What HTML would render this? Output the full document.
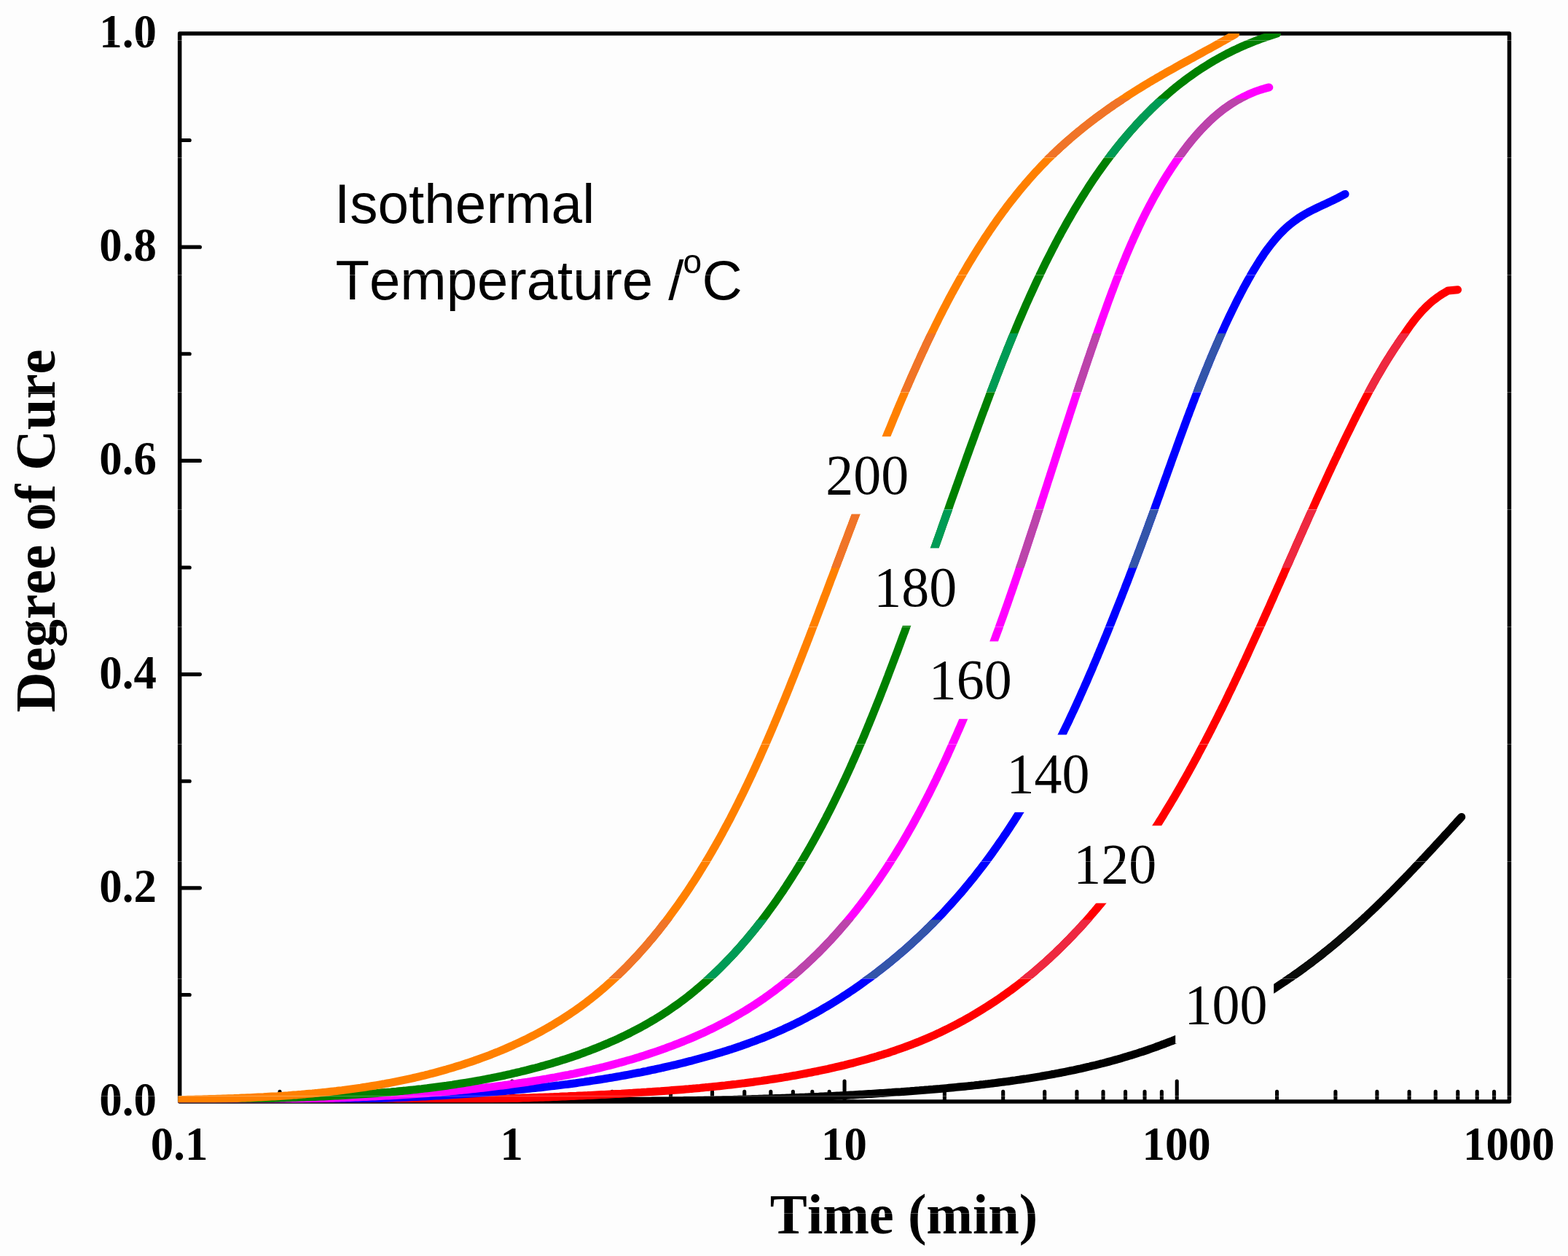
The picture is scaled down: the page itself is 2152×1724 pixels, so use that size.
<!DOCTYPE html>
<html lang="en"><head><meta charset="utf-8"><title>Degree of Cure vs Time</title>
<style>html,body{margin:0;padding:0;background:#fdfdfd}body{width:2152px;height:1724px;overflow:hidden}svg{display:block}text{fill:#000;font-kerning:none;font-variant-ligatures:none}.tk{font-family:"Liberation Serif","Times New Roman",serif;font-weight:bold}.ti{font-family:"Liberation Serif","Times New Roman",serif;font-weight:bold}.lb{font-family:"Liberation Serif","Times New Roman",serif}.lg{font-family:"Liberation Sans",Arial,sans-serif}.cv{fill:none;stroke-width:11;stroke-linecap:round;stroke-linejoin:round}.ax{fill:none;stroke:#000;stroke-width:5.5;stroke-linecap:round;stroke-linejoin:round}</style></head><body>
<svg width="2152" height="1724" viewBox="0 0 2152 1724" role="img" aria-label="Degree of cure versus time for isothermal temperatures">
<rect width="2152" height="1724" fill="#fdfdfd"/>
<defs><clipPath id="plot"><rect x="244.3" y="45.9" width="1830" height="1467.3"/></clipPath>
<clipPath id="bands"><rect x="0" y="135.5" width="2152" height="80.5"/><rect x="0" y="457.5" width="2152" height="80.5"/><rect x="0" y="699.0" width="2152" height="80.5"/><rect x="0" y="1262.5" width="2152" height="80.5"/></clipPath></defs>
<rect class="ax" x="246.65" y="45.90" width="1824.80" height="1466.20"/>
<path class="ax" style="stroke-width:5.1" d="M247.65,1365.48 h12.60 M247.65,1218.86 h26.80 M247.65,1072.24 h12.60 M247.65,925.62 h26.80 M247.65,779.00 h12.60 M247.65,632.38 h26.80 M247.65,485.76 h12.60 M247.65,339.14 h26.80 M247.65,192.52 h12.60 M383.98,1511.10 v-12.70 M464.31,1511.10 v-12.70 M521.31,1511.10 v-12.70 M565.52,1511.10 v-12.70 M601.64,1511.10 v-12.70 M632.18,1511.10 v-12.70 M658.64,1511.10 v-12.70 M681.98,1511.10 v-12.70 M702.85,1511.10 v-27.00 M840.18,1511.10 v-12.70 M920.51,1511.10 v-12.70 M977.51,1511.10 v-12.70 M1021.72,1511.10 v-12.70 M1057.84,1511.10 v-12.70 M1088.38,1511.10 v-12.70 M1114.84,1511.10 v-12.70 M1138.18,1511.10 v-12.70 M1159.05,1511.10 v-27.00 M1296.38,1511.10 v-12.70 M1376.71,1511.10 v-12.70 M1433.71,1511.10 v-12.70 M1477.92,1511.10 v-12.70 M1514.04,1511.10 v-12.70 M1544.58,1511.10 v-12.70 M1571.04,1511.10 v-12.70 M1594.38,1511.10 v-12.70 M1615.25,1511.10 v-27.00 M1752.58,1511.10 v-12.70 M1832.91,1511.10 v-12.70 M1889.91,1511.10 v-12.70 M1934.12,1511.10 v-12.70 M1970.24,1511.10 v-12.70 M2000.78,1511.10 v-12.70 M2027.24,1511.10 v-12.70 M2050.58,1511.10 v-12.70"/>
<g clip-path="url(#plot)">
<path class="cv" stroke="#000000" d="M246.6,1512.5 L249.8,1512.4 L253.0,1512.4 L256.2,1512.3 L259.4,1512.2 L262.5,1512.1 L265.7,1512.1 L268.9,1512.0 L272.1,1511.9 L275.2,1511.9 L278.4,1511.8 L281.6,1511.8 L284.7,1511.7 L287.9,1511.6 L291.1,1511.6 L294.3,1511.5 L297.4,1511.5 L300.6,1511.4 L303.8,1511.4 L306.9,1511.3 L310.1,1511.3 L313.3,1511.2 L316.4,1511.2 L319.6,1511.1 L322.8,1511.1 L325.9,1511.1 L329.1,1511.0 L332.3,1511.0 L335.4,1510.9 L338.6,1510.9 L341.7,1510.9 L344.9,1510.8 L348.1,1510.8 L351.2,1510.8 L354.4,1510.7 L357.5,1510.7 L360.7,1510.7 L363.9,1510.6 L367.0,1510.6 L370.2,1510.6 L373.3,1510.6 L376.5,1510.5 L379.6,1510.5 L382.8,1510.5 L385.9,1510.5 L389.1,1510.5 L392.3,1510.4 L395.4,1510.4 L398.6,1510.4 L401.7,1510.4 L404.9,1510.4 L408.0,1510.4 L411.2,1510.3 L414.3,1510.3 L417.5,1510.3 L420.6,1510.3 L423.8,1510.3 L426.9,1510.3 L430.1,1510.3 L433.2,1510.3 L436.3,1510.3 L439.5,1510.3 L442.6,1510.3 L445.8,1510.3 L448.9,1510.3 L452.1,1510.3 L455.2,1510.2 L458.4,1510.2 L461.5,1510.2 L464.6,1510.2 L467.8,1510.2 L470.9,1510.3 L474.1,1510.3 L477.2,1510.3 L480.4,1510.3 L483.5,1510.3 L486.6,1510.3 L489.8,1510.3 L492.9,1510.3 L496.1,1510.3 L499.2,1510.3 L502.3,1510.3 L505.5,1510.3 L508.6,1510.3 L511.7,1510.3 L514.9,1510.3 L518.0,1510.3 L521.1,1510.4 L524.3,1510.4 L527.4,1510.4 L530.6,1510.4 L533.7,1510.4 L536.8,1510.4 L540.0,1510.4 L543.1,1510.4 L546.2,1510.5 L549.4,1510.5 L552.5,1510.5 L555.6,1510.5 L558.8,1510.5 L561.9,1510.5 L565.0,1510.5 L568.1,1510.6 L571.3,1510.6 L574.4,1510.6 L577.5,1510.6 L580.7,1510.6 L583.8,1510.6 L586.9,1510.7 L590.1,1510.7 L593.2,1510.7 L596.3,1510.7 L599.4,1510.7 L602.6,1510.7 L605.7,1510.8 L608.8,1510.8 L611.9,1510.8 L615.1,1510.8 L618.2,1510.8 L621.3,1510.9 L624.5,1510.9 L627.6,1510.9 L630.7,1510.9 L633.8,1510.9 L637.0,1511.0 L640.1,1511.0 L643.2,1511.0 L646.3,1511.0 L649.5,1511.0 L652.6,1511.0 L655.7,1511.1 L658.8,1511.1 L661.9,1511.1 L665.1,1511.1 L668.2,1511.1 L671.3,1511.1 L674.4,1511.2 L677.6,1511.2 L680.7,1511.2 L683.8,1511.2 L686.9,1511.2 L690.0,1511.2 L693.2,1511.3 L696.3,1511.3 L699.4,1511.3 L702.5,1511.3 L705.7,1511.3 L708.8,1511.3 L711.9,1511.3 L715.0,1511.4 L718.1,1511.4 L721.3,1511.4 L724.4,1511.4 L727.5,1511.4 L730.6,1511.4 L733.7,1511.4 L736.8,1511.4 L740.0,1511.5 L743.1,1511.5 L746.2,1511.5 L749.3,1511.5 L752.4,1511.5 L755.6,1511.5 L758.7,1511.5 L761.8,1511.5 L764.9,1511.5 L768.0,1511.5 L771.2,1511.5 L774.3,1511.5 L777.4,1511.5 L780.5,1511.5 L783.6,1511.6 L786.7,1511.6 L789.9,1511.6 L793.0,1511.6 L796.1,1511.6 L799.2,1511.6 L802.3,1511.6 L805.4,1511.6 L808.6,1511.5 L811.7,1511.5 L814.8,1511.5 L817.9,1511.5 L821.0,1511.5 L824.1,1511.5 L827.3,1511.5 L830.4,1511.5 L833.5,1511.5 L836.6,1511.5 L839.7,1511.5 L842.8,1511.5 L846.0,1511.5 L849.1,1511.4 L852.2,1511.4 L855.3,1511.4 L858.4,1511.4 L861.5,1511.4 L864.7,1511.4 L867.8,1511.3 L870.9,1511.3 L874.0,1511.3 L877.1,1511.3 L880.2,1511.3 L883.4,1511.2 L886.5,1511.2 L889.6,1511.2 L892.7,1511.2 L895.8,1511.1 L898.9,1511.1 L902.1,1511.1 L905.2,1511.0 L908.3,1511.0 L911.4,1511.0 L914.5,1510.9 L917.6,1510.9 L920.8,1510.9 L923.9,1510.8 L927.0,1510.8 L930.1,1510.7 L933.2,1510.7 L936.3,1510.7 L939.5,1510.6 L942.6,1510.6 L945.7,1510.5 L948.8,1510.5 L951.9,1510.4 L955.1,1510.4 L958.2,1510.3 L961.3,1510.3 L964.4,1510.2 L967.5,1510.1 L970.6,1510.1 L973.8,1510.0 L976.9,1510.0 L980.0,1509.9 L983.1,1509.8 L986.2,1509.8 L989.4,1509.7 L992.5,1509.6 L995.6,1509.6 L998.7,1509.5 L1001.8,1509.4 L1005.0,1509.4 L1008.1,1509.3 L1011.2,1509.2 L1014.3,1509.1 L1017.4,1509.0 L1020.6,1509.0 L1023.7,1508.9 L1026.8,1508.8 L1029.9,1508.7 L1033.0,1508.6 L1036.2,1508.5 L1039.3,1508.4 L1042.4,1508.3 L1045.5,1508.2 L1048.7,1508.1 L1051.8,1508.0 L1054.9,1507.9 L1058.0,1507.8 L1061.1,1507.7 L1064.3,1507.6 L1067.4,1507.5 L1070.5,1507.4 L1073.6,1507.3 L1076.8,1507.2 L1079.9,1507.1 L1083.0,1507.0 L1086.1,1506.8 L1089.3,1506.7 L1092.4,1506.6 L1095.5,1506.5 L1098.6,1506.3 L1101.8,1506.2 L1104.9,1506.1 L1108.0,1505.9 L1111.1,1505.8 L1114.3,1505.7 L1117.4,1505.5 L1120.5,1505.4 L1123.7,1505.3 L1126.8,1505.1 L1129.9,1505.0 L1133.0,1504.8 L1136.2,1504.7 L1139.3,1504.5 L1142.4,1504.4 L1145.6,1504.2 L1148.7,1504.0 L1151.8,1503.9 L1155.0,1503.7 L1158.1,1503.6 L1161.2,1503.4 L1164.3,1503.2 L1167.5,1503.0 L1170.6,1502.9 L1173.7,1502.7 L1176.9,1502.5 L1180.0,1502.3 L1183.1,1502.2 L1186.3,1502.0 L1189.4,1501.8 L1192.5,1501.6 L1195.7,1501.4 L1198.8,1501.2 L1202.0,1501.0 L1205.1,1500.8 L1208.2,1500.6 L1211.4,1500.4 L1214.5,1500.2 L1217.6,1500.0 L1220.8,1499.8 L1223.9,1499.6 L1227.1,1499.3 L1230.2,1499.1 L1233.3,1498.9 L1236.5,1498.7 L1239.6,1498.4 L1242.8,1498.2 L1245.9,1498.0 L1249.0,1497.8 L1252.2,1497.5 L1255.3,1497.3 L1258.5,1497.0 L1261.6,1496.8 L1264.7,1496.5 L1267.9,1496.3 L1271.0,1496.0 L1274.2,1495.8 L1277.3,1495.5 L1280.5,1495.3 L1283.6,1495.0 L1286.8,1494.7 L1289.9,1494.5 L1293.0,1494.2 L1296.2,1493.9 L1299.3,1493.6 L1302.5,1493.3 L1305.6,1493.0 L1308.8,1492.7 L1311.9,1492.4 L1315.1,1492.1 L1318.2,1491.8 L1321.3,1491.5 L1324.5,1491.2 L1327.6,1490.9 L1330.8,1490.6 L1333.9,1490.2 L1337.0,1489.9 L1340.2,1489.5 L1343.3,1489.2 L1346.5,1488.8 L1349.6,1488.5 L1352.7,1488.1 L1355.9,1487.8 L1359.0,1487.4 L1362.1,1487.0 L1365.3,1486.6 L1368.4,1486.2 L1371.5,1485.8 L1374.6,1485.4 L1377.8,1485.0 L1380.9,1484.6 L1384.0,1484.2 L1387.1,1483.8 L1390.3,1483.3 L1393.4,1482.9 L1396.5,1482.4 L1399.6,1482.0 L1402.7,1481.5 L1405.8,1481.0 L1409.0,1480.6 L1412.1,1480.1 L1415.2,1479.6 L1418.3,1479.1 L1421.4,1478.6 L1424.5,1478.1 L1427.6,1477.6 L1430.7,1477.0 L1433.8,1476.5 L1436.9,1475.9 L1440.0,1475.4 L1443.1,1474.8 L1446.1,1474.3 L1449.2,1473.7 L1452.3,1473.1 L1455.4,1472.5 L1458.5,1471.9 L1461.6,1471.3 L1464.6,1470.7 L1467.7,1470.0 L1470.8,1469.4 L1473.8,1468.8 L1476.9,1468.1 L1480.0,1467.4 L1483.0,1466.8 L1486.1,1466.1 L1489.1,1465.4 L1492.2,1464.7 L1495.2,1464.0 L1498.3,1463.2 L1501.3,1462.5 L1504.4,1461.8 L1507.4,1461.0 L1510.4,1460.2 L1513.5,1459.5 L1516.5,1458.7 L1519.5,1457.9 L1522.5,1457.1 L1525.5,1456.3 L1528.5,1455.4 L1531.6,1454.6 L1534.6,1453.8 L1537.6,1452.9 L1540.6,1452.0 L1543.6,1451.1 L1546.6,1450.2 L1549.5,1449.3 L1552.5,1448.4 L1555.5,1447.5 L1558.5,1446.6 L1561.5,1445.6 L1564.4,1444.6 L1567.4,1443.7 L1570.4,1442.7 L1573.3,1441.7 L1576.3,1440.7 L1579.2,1439.6 L1582.2,1438.6 L1585.1,1437.6 L1588.0,1436.5 L1591.0,1435.4 L1593.9,1434.3 L1596.8,1433.3 L1599.7,1432.1 L1602.7,1431.0 L1605.6,1429.9 L1608.5,1428.8 L1611.4,1427.6 L1614.3,1426.5 L1617.2,1425.3 L1620.1,1424.1 L1622.9,1422.9 L1625.8,1421.7 L1628.7,1420.5 L1631.6,1419.2 L1634.4,1418.0 L1637.3,1416.8 L1640.1,1415.5 L1643.0,1414.2 L1645.8,1412.9 L1648.7,1411.6 L1651.5,1410.3 L1654.3,1409.0 L1657.2,1407.7 L1660.0,1406.3 L1662.8,1405.0 L1665.6,1403.6 L1668.4,1402.2 L1671.2,1400.9 L1674.0,1399.5 L1676.8,1398.1 L1679.6,1396.6 L1682.4,1395.2 L1685.1,1393.8 L1687.9,1392.3 L1690.7,1390.9 L1693.4,1389.4 L1696.2,1387.9 L1698.9,1386.4 L1701.7,1384.9 L1704.4,1383.4 L1707.1,1381.9 L1709.9,1380.3 L1712.6,1378.8 L1715.3,1377.2 L1718.0,1375.7 L1720.7,1374.1 L1723.4,1372.5 L1726.1,1370.9 L1728.8,1369.3 L1731.4,1367.7 L1734.1,1366.1 L1736.8,1364.4 L1739.4,1362.8 L1742.1,1361.1 L1744.7,1359.4 L1747.4,1357.8 L1750.0,1356.1 L1752.6,1354.4 L1755.2,1352.6 L1757.8,1350.9 L1760.5,1349.2 L1763.1,1347.5 L1765.6,1345.7 L1768.2,1343.9 L1770.8,1342.2 L1773.4,1340.4 L1776.0,1338.6 L1778.5,1336.8 L1781.1,1335.0 L1783.6,1333.2 L1786.2,1331.3 L1788.7,1329.5 L1791.2,1327.6 L1793.7,1325.8 L1796.3,1323.9 L1798.8,1322.0 L1801.3,1320.1 L1803.7,1318.2 L1806.2,1316.3 L1808.7,1314.4 L1811.2,1312.5 L1813.6,1310.6 L1816.1,1308.6 L1818.5,1306.6 L1821.0,1304.7 L1823.4,1302.7 L1825.8,1300.7 L1828.3,1298.7 L1830.7,1296.7 L1833.1,1294.7 L1835.5,1292.7 L1837.9,1290.7 L1840.3,1288.6 L1842.7,1286.6 L1845.0,1284.5 L1847.4,1282.5 L1849.8,1280.4 L1852.1,1278.3 L1854.5,1276.3 L1856.8,1274.2 L1859.1,1272.1 L1861.5,1270.0 L1863.8,1267.8 L1866.1,1265.7 L1868.4,1263.6 L1870.7,1261.5 L1873.0,1259.3 L1875.3,1257.2 L1877.6,1255.0 L1879.9,1252.9 L1882.2,1250.7 L1884.5,1248.5 L1886.7,1246.4 L1889.0,1244.2 L1891.3,1242.0 L1893.5,1239.8 L1895.8,1237.6 L1898.0,1235.4 L1900.3,1233.2 L1902.5,1231.0 L1904.7,1228.8 L1907.0,1226.5 L1909.2,1224.3 L1911.4,1222.1 L1913.6,1219.8 L1915.8,1217.6 L1918.0,1215.4 L1920.2,1213.1 L1922.4,1210.9 L1924.6,1208.6 L1926.8,1206.3 L1929.0,1204.1 L1931.2,1201.8 L1933.4,1199.6 L1935.5,1197.3 L1937.7,1195.0 L1939.9,1192.7 L1942.0,1190.4 L1944.2,1188.2 L1946.4,1185.9 L1948.5,1183.6 L1950.7,1181.3 L1952.8,1179.0 L1955.0,1176.7 L1957.1,1174.4 L1959.2,1172.1 L1961.4,1169.8 L1963.5,1167.5 L1965.7,1165.2 L1967.8,1162.9 L1969.9,1160.6 L1972.0,1158.3 L1974.2,1156.0 L1976.3,1153.7 L1978.4,1151.4 L1980.5,1149.1 L1982.6,1146.8 L1984.7,1144.5 L1986.9,1142.2 L1989.0,1139.9 L1991.1,1137.6 L1993.2,1135.3 L1995.3,1132.9 L1997.4,1130.6 L1999.5,1128.3 L2001.6,1126.0 L2003.7,1123.7 L2005.8,1121.4"/>
<path class="cv" stroke="#0a0c0a" clip-path="url(#bands)" d="M246.6,1512.5 L249.8,1512.4 L253.0,1512.4 L256.2,1512.3 L259.4,1512.2 L262.5,1512.1 L265.7,1512.1 L268.9,1512.0 L272.1,1511.9 L275.2,1511.9 L278.4,1511.8 L281.6,1511.8 L284.7,1511.7 L287.9,1511.6 L291.1,1511.6 L294.3,1511.5 L297.4,1511.5 L300.6,1511.4 L303.8,1511.4 L306.9,1511.3 L310.1,1511.3 L313.3,1511.2 L316.4,1511.2 L319.6,1511.1 L322.8,1511.1 L325.9,1511.1 L329.1,1511.0 L332.3,1511.0 L335.4,1510.9 L338.6,1510.9 L341.7,1510.9 L344.9,1510.8 L348.1,1510.8 L351.2,1510.8 L354.4,1510.7 L357.5,1510.7 L360.7,1510.7 L363.9,1510.6 L367.0,1510.6 L370.2,1510.6 L373.3,1510.6 L376.5,1510.5 L379.6,1510.5 L382.8,1510.5 L385.9,1510.5 L389.1,1510.5 L392.3,1510.4 L395.4,1510.4 L398.6,1510.4 L401.7,1510.4 L404.9,1510.4 L408.0,1510.4 L411.2,1510.3 L414.3,1510.3 L417.5,1510.3 L420.6,1510.3 L423.8,1510.3 L426.9,1510.3 L430.1,1510.3 L433.2,1510.3 L436.3,1510.3 L439.5,1510.3 L442.6,1510.3 L445.8,1510.3 L448.9,1510.3 L452.1,1510.3 L455.2,1510.2 L458.4,1510.2 L461.5,1510.2 L464.6,1510.2 L467.8,1510.2 L470.9,1510.3 L474.1,1510.3 L477.2,1510.3 L480.4,1510.3 L483.5,1510.3 L486.6,1510.3 L489.8,1510.3 L492.9,1510.3 L496.1,1510.3 L499.2,1510.3 L502.3,1510.3 L505.5,1510.3 L508.6,1510.3 L511.7,1510.3 L514.9,1510.3 L518.0,1510.3 L521.1,1510.4 L524.3,1510.4 L527.4,1510.4 L530.6,1510.4 L533.7,1510.4 L536.8,1510.4 L540.0,1510.4 L543.1,1510.4 L546.2,1510.5 L549.4,1510.5 L552.5,1510.5 L555.6,1510.5 L558.8,1510.5 L561.9,1510.5 L565.0,1510.5 L568.1,1510.6 L571.3,1510.6 L574.4,1510.6 L577.5,1510.6 L580.7,1510.6 L583.8,1510.6 L586.9,1510.7 L590.1,1510.7 L593.2,1510.7 L596.3,1510.7 L599.4,1510.7 L602.6,1510.7 L605.7,1510.8 L608.8,1510.8 L611.9,1510.8 L615.1,1510.8 L618.2,1510.8 L621.3,1510.9 L624.5,1510.9 L627.6,1510.9 L630.7,1510.9 L633.8,1510.9 L637.0,1511.0 L640.1,1511.0 L643.2,1511.0 L646.3,1511.0 L649.5,1511.0 L652.6,1511.0 L655.7,1511.1 L658.8,1511.1 L661.9,1511.1 L665.1,1511.1 L668.2,1511.1 L671.3,1511.1 L674.4,1511.2 L677.6,1511.2 L680.7,1511.2 L683.8,1511.2 L686.9,1511.2 L690.0,1511.2 L693.2,1511.3 L696.3,1511.3 L699.4,1511.3 L702.5,1511.3 L705.7,1511.3 L708.8,1511.3 L711.9,1511.3 L715.0,1511.4 L718.1,1511.4 L721.3,1511.4 L724.4,1511.4 L727.5,1511.4 L730.6,1511.4 L733.7,1511.4 L736.8,1511.4 L740.0,1511.5 L743.1,1511.5 L746.2,1511.5 L749.3,1511.5 L752.4,1511.5 L755.6,1511.5 L758.7,1511.5 L761.8,1511.5 L764.9,1511.5 L768.0,1511.5 L771.2,1511.5 L774.3,1511.5 L777.4,1511.5 L780.5,1511.5 L783.6,1511.6 L786.7,1511.6 L789.9,1511.6 L793.0,1511.6 L796.1,1511.6 L799.2,1511.6 L802.3,1511.6 L805.4,1511.6 L808.6,1511.5 L811.7,1511.5 L814.8,1511.5 L817.9,1511.5 L821.0,1511.5 L824.1,1511.5 L827.3,1511.5 L830.4,1511.5 L833.5,1511.5 L836.6,1511.5 L839.7,1511.5 L842.8,1511.5 L846.0,1511.5 L849.1,1511.4 L852.2,1511.4 L855.3,1511.4 L858.4,1511.4 L861.5,1511.4 L864.7,1511.4 L867.8,1511.3 L870.9,1511.3 L874.0,1511.3 L877.1,1511.3 L880.2,1511.3 L883.4,1511.2 L886.5,1511.2 L889.6,1511.2 L892.7,1511.2 L895.8,1511.1 L898.9,1511.1 L902.1,1511.1 L905.2,1511.0 L908.3,1511.0 L911.4,1511.0 L914.5,1510.9 L917.6,1510.9 L920.8,1510.9 L923.9,1510.8 L927.0,1510.8 L930.1,1510.7 L933.2,1510.7 L936.3,1510.7 L939.5,1510.6 L942.6,1510.6 L945.7,1510.5 L948.8,1510.5 L951.9,1510.4 L955.1,1510.4 L958.2,1510.3 L961.3,1510.3 L964.4,1510.2 L967.5,1510.1 L970.6,1510.1 L973.8,1510.0 L976.9,1510.0 L980.0,1509.9 L983.1,1509.8 L986.2,1509.8 L989.4,1509.7 L992.5,1509.6 L995.6,1509.6 L998.7,1509.5 L1001.8,1509.4 L1005.0,1509.4 L1008.1,1509.3 L1011.2,1509.2 L1014.3,1509.1 L1017.4,1509.0 L1020.6,1509.0 L1023.7,1508.9 L1026.8,1508.8 L1029.9,1508.7 L1033.0,1508.6 L1036.2,1508.5 L1039.3,1508.4 L1042.4,1508.3 L1045.5,1508.2 L1048.7,1508.1 L1051.8,1508.0 L1054.9,1507.9 L1058.0,1507.8 L1061.1,1507.7 L1064.3,1507.6 L1067.4,1507.5 L1070.5,1507.4 L1073.6,1507.3 L1076.8,1507.2 L1079.9,1507.1 L1083.0,1507.0 L1086.1,1506.8 L1089.3,1506.7 L1092.4,1506.6 L1095.5,1506.5 L1098.6,1506.3 L1101.8,1506.2 L1104.9,1506.1 L1108.0,1505.9 L1111.1,1505.8 L1114.3,1505.7 L1117.4,1505.5 L1120.5,1505.4 L1123.7,1505.3 L1126.8,1505.1 L1129.9,1505.0 L1133.0,1504.8 L1136.2,1504.7 L1139.3,1504.5 L1142.4,1504.4 L1145.6,1504.2 L1148.7,1504.0 L1151.8,1503.9 L1155.0,1503.7 L1158.1,1503.6 L1161.2,1503.4 L1164.3,1503.2 L1167.5,1503.0 L1170.6,1502.9 L1173.7,1502.7 L1176.9,1502.5 L1180.0,1502.3 L1183.1,1502.2 L1186.3,1502.0 L1189.4,1501.8 L1192.5,1501.6 L1195.7,1501.4 L1198.8,1501.2 L1202.0,1501.0 L1205.1,1500.8 L1208.2,1500.6 L1211.4,1500.4 L1214.5,1500.2 L1217.6,1500.0 L1220.8,1499.8 L1223.9,1499.6 L1227.1,1499.3 L1230.2,1499.1 L1233.3,1498.9 L1236.5,1498.7 L1239.6,1498.4 L1242.8,1498.2 L1245.9,1498.0 L1249.0,1497.8 L1252.2,1497.5 L1255.3,1497.3 L1258.5,1497.0 L1261.6,1496.8 L1264.7,1496.5 L1267.9,1496.3 L1271.0,1496.0 L1274.2,1495.8 L1277.3,1495.5 L1280.5,1495.3 L1283.6,1495.0 L1286.8,1494.7 L1289.9,1494.5 L1293.0,1494.2 L1296.2,1493.9 L1299.3,1493.6 L1302.5,1493.3 L1305.6,1493.0 L1308.8,1492.7 L1311.9,1492.4 L1315.1,1492.1 L1318.2,1491.8 L1321.3,1491.5 L1324.5,1491.2 L1327.6,1490.9 L1330.8,1490.6 L1333.9,1490.2 L1337.0,1489.9 L1340.2,1489.5 L1343.3,1489.2 L1346.5,1488.8 L1349.6,1488.5 L1352.7,1488.1 L1355.9,1487.8 L1359.0,1487.4 L1362.1,1487.0 L1365.3,1486.6 L1368.4,1486.2 L1371.5,1485.8 L1374.6,1485.4 L1377.8,1485.0 L1380.9,1484.6 L1384.0,1484.2 L1387.1,1483.8 L1390.3,1483.3 L1393.4,1482.9 L1396.5,1482.4 L1399.6,1482.0 L1402.7,1481.5 L1405.8,1481.0 L1409.0,1480.6 L1412.1,1480.1 L1415.2,1479.6 L1418.3,1479.1 L1421.4,1478.6 L1424.5,1478.1 L1427.6,1477.6 L1430.7,1477.0 L1433.8,1476.5 L1436.9,1475.9 L1440.0,1475.4 L1443.1,1474.8 L1446.1,1474.3 L1449.2,1473.7 L1452.3,1473.1 L1455.4,1472.5 L1458.5,1471.9 L1461.6,1471.3 L1464.6,1470.7 L1467.7,1470.0 L1470.8,1469.4 L1473.8,1468.8 L1476.9,1468.1 L1480.0,1467.4 L1483.0,1466.8 L1486.1,1466.1 L1489.1,1465.4 L1492.2,1464.7 L1495.2,1464.0 L1498.3,1463.2 L1501.3,1462.5 L1504.4,1461.8 L1507.4,1461.0 L1510.4,1460.2 L1513.5,1459.5 L1516.5,1458.7 L1519.5,1457.9 L1522.5,1457.1 L1525.5,1456.3 L1528.5,1455.4 L1531.6,1454.6 L1534.6,1453.8 L1537.6,1452.9 L1540.6,1452.0 L1543.6,1451.1 L1546.6,1450.2 L1549.5,1449.3 L1552.5,1448.4 L1555.5,1447.5 L1558.5,1446.6 L1561.5,1445.6 L1564.4,1444.6 L1567.4,1443.7 L1570.4,1442.7 L1573.3,1441.7 L1576.3,1440.7 L1579.2,1439.6 L1582.2,1438.6 L1585.1,1437.6 L1588.0,1436.5 L1591.0,1435.4 L1593.9,1434.3 L1596.8,1433.3 L1599.7,1432.1 L1602.7,1431.0 L1605.6,1429.9 L1608.5,1428.8 L1611.4,1427.6 L1614.3,1426.5 L1617.2,1425.3 L1620.1,1424.1 L1622.9,1422.9 L1625.8,1421.7 L1628.7,1420.5 L1631.6,1419.2 L1634.4,1418.0 L1637.3,1416.8 L1640.1,1415.5 L1643.0,1414.2 L1645.8,1412.9 L1648.7,1411.6 L1651.5,1410.3 L1654.3,1409.0 L1657.2,1407.7 L1660.0,1406.3 L1662.8,1405.0 L1665.6,1403.6 L1668.4,1402.2 L1671.2,1400.9 L1674.0,1399.5 L1676.8,1398.1 L1679.6,1396.6 L1682.4,1395.2 L1685.1,1393.8 L1687.9,1392.3 L1690.7,1390.9 L1693.4,1389.4 L1696.2,1387.9 L1698.9,1386.4 L1701.7,1384.9 L1704.4,1383.4 L1707.1,1381.9 L1709.9,1380.3 L1712.6,1378.8 L1715.3,1377.2 L1718.0,1375.7 L1720.7,1374.1 L1723.4,1372.5 L1726.1,1370.9 L1728.8,1369.3 L1731.4,1367.7 L1734.1,1366.1 L1736.8,1364.4 L1739.4,1362.8 L1742.1,1361.1 L1744.7,1359.4 L1747.4,1357.8 L1750.0,1356.1 L1752.6,1354.4 L1755.2,1352.6 L1757.8,1350.9 L1760.5,1349.2 L1763.1,1347.5 L1765.6,1345.7 L1768.2,1343.9 L1770.8,1342.2 L1773.4,1340.4 L1776.0,1338.6 L1778.5,1336.8 L1781.1,1335.0 L1783.6,1333.2 L1786.2,1331.3 L1788.7,1329.5 L1791.2,1327.6 L1793.7,1325.8 L1796.3,1323.9 L1798.8,1322.0 L1801.3,1320.1 L1803.7,1318.2 L1806.2,1316.3 L1808.7,1314.4 L1811.2,1312.5 L1813.6,1310.6 L1816.1,1308.6 L1818.5,1306.6 L1821.0,1304.7 L1823.4,1302.7 L1825.8,1300.7 L1828.3,1298.7 L1830.7,1296.7 L1833.1,1294.7 L1835.5,1292.7 L1837.9,1290.7 L1840.3,1288.6 L1842.7,1286.6 L1845.0,1284.5 L1847.4,1282.5 L1849.8,1280.4 L1852.1,1278.3 L1854.5,1276.3 L1856.8,1274.2 L1859.1,1272.1 L1861.5,1270.0 L1863.8,1267.8 L1866.1,1265.7 L1868.4,1263.6 L1870.7,1261.5 L1873.0,1259.3 L1875.3,1257.2 L1877.6,1255.0 L1879.9,1252.9 L1882.2,1250.7 L1884.5,1248.5 L1886.7,1246.4 L1889.0,1244.2 L1891.3,1242.0 L1893.5,1239.8 L1895.8,1237.6 L1898.0,1235.4 L1900.3,1233.2 L1902.5,1231.0 L1904.7,1228.8 L1907.0,1226.5 L1909.2,1224.3 L1911.4,1222.1 L1913.6,1219.8 L1915.8,1217.6 L1918.0,1215.4 L1920.2,1213.1 L1922.4,1210.9 L1924.6,1208.6 L1926.8,1206.3 L1929.0,1204.1 L1931.2,1201.8 L1933.4,1199.6 L1935.5,1197.3 L1937.7,1195.0 L1939.9,1192.7 L1942.0,1190.4 L1944.2,1188.2 L1946.4,1185.9 L1948.5,1183.6 L1950.7,1181.3 L1952.8,1179.0 L1955.0,1176.7 L1957.1,1174.4 L1959.2,1172.1 L1961.4,1169.8 L1963.5,1167.5 L1965.7,1165.2 L1967.8,1162.9 L1969.9,1160.6 L1972.0,1158.3 L1974.2,1156.0 L1976.3,1153.7 L1978.4,1151.4 L1980.5,1149.1 L1982.6,1146.8 L1984.7,1144.5 L1986.9,1142.2 L1989.0,1139.9 L1991.1,1137.6 L1993.2,1135.3 L1995.3,1132.9 L1997.4,1130.6 L1999.5,1128.3 L2001.6,1126.0 L2003.7,1123.7 L2005.8,1121.4"/>
<path class="cv" stroke="#ff0000" d="M246.6,1512.3 L250.5,1512.3 L254.4,1512.3 L258.2,1512.3 L262.1,1512.3 L266.0,1512.3 L269.8,1512.3 L273.7,1512.3 L277.6,1512.3 L281.4,1512.3 L285.3,1512.3 L289.2,1512.3 L293.0,1512.3 L296.9,1512.3 L300.8,1512.3 L304.6,1512.3 L308.5,1512.3 L312.4,1512.3 L316.2,1512.3 L320.1,1512.3 L323.9,1512.3 L327.8,1512.3 L331.7,1512.3 L335.5,1512.3 L339.4,1512.3 L343.3,1512.3 L347.1,1512.3 L351.0,1512.3 L354.8,1512.3 L358.7,1512.3 L362.6,1512.3 L366.4,1512.2 L370.3,1512.2 L374.2,1512.2 L378.0,1512.2 L381.9,1512.2 L385.7,1512.2 L389.6,1512.2 L393.5,1512.2 L397.3,1512.2 L401.2,1512.2 L405.1,1512.1 L408.9,1512.1 L412.8,1512.1 L416.6,1512.1 L420.5,1512.1 L424.4,1512.1 L428.2,1512.1 L432.1,1512.0 L435.9,1512.0 L439.8,1512.0 L443.7,1512.0 L447.5,1512.0 L451.4,1511.9 L455.2,1511.9 L459.1,1511.9 L463.0,1511.9 L466.8,1511.8 L470.7,1511.8 L474.5,1511.8 L478.4,1511.7 L482.3,1511.7 L486.1,1511.7 L490.0,1511.6 L493.8,1511.6 L497.7,1511.6 L501.6,1511.5 L505.4,1511.5 L509.3,1511.5 L513.1,1511.4 L517.0,1511.4 L520.9,1511.3 L524.7,1511.3 L528.6,1511.3 L532.4,1511.2 L536.3,1511.2 L540.2,1511.1 L544.0,1511.1 L547.9,1511.0 L551.7,1511.0 L555.6,1510.9 L559.5,1510.8 L563.3,1510.8 L567.2,1510.7 L571.0,1510.7 L574.9,1510.6 L578.8,1510.5 L582.6,1510.5 L586.5,1510.4 L590.3,1510.3 L594.2,1510.3 L598.0,1510.2 L601.9,1510.1 L605.8,1510.1 L609.6,1510.0 L613.5,1509.9 L617.3,1509.8 L621.2,1509.8 L625.1,1509.7 L628.9,1509.6 L632.8,1509.5 L636.6,1509.4 L640.5,1509.3 L644.3,1509.2 L648.2,1509.1 L652.1,1509.0 L655.9,1508.9 L659.8,1508.8 L663.6,1508.7 L667.5,1508.6 L671.4,1508.5 L675.2,1508.4 L679.1,1508.3 L682.9,1508.2 L686.8,1508.1 L690.6,1508.0 L694.5,1507.9 L698.4,1507.8 L702.2,1507.6 L706.1,1507.5 L709.9,1507.4 L713.8,1507.3 L717.7,1507.1 L721.5,1507.0 L725.4,1506.9 L729.2,1506.7 L733.1,1506.6 L736.9,1506.5 L740.8,1506.3 L744.7,1506.2 L748.5,1506.0 L752.4,1505.9 L756.2,1505.7 L760.1,1505.6 L764.0,1505.4 L767.8,1505.3 L771.7,1505.1 L775.5,1504.9 L779.4,1504.8 L783.3,1504.6 L787.1,1504.4 L791.0,1504.3 L794.8,1504.1 L798.7,1503.9 L802.5,1503.7 L806.4,1503.6 L810.3,1503.4 L814.1,1503.2 L818.0,1503.0 L821.8,1502.8 L825.7,1502.6 L829.6,1502.4 L833.4,1502.2 L837.3,1502.0 L841.1,1501.8 L845.0,1501.6 L848.9,1501.4 L852.7,1501.2 L856.6,1500.9 L860.4,1500.7 L864.3,1500.5 L868.1,1500.3 L872.0,1500.0 L875.9,1499.8 L879.7,1499.6 L883.6,1499.3 L887.4,1499.1 L891.3,1498.8 L895.2,1498.6 L899.0,1498.3 L902.9,1498.0 L906.7,1497.8 L910.6,1497.5 L914.4,1497.2 L918.3,1496.9 L922.1,1496.6 L926.0,1496.3 L929.8,1496.0 L933.7,1495.7 L937.5,1495.4 L941.4,1495.1 L945.2,1494.8 L949.1,1494.4 L952.9,1494.1 L956.8,1493.7 L960.6,1493.4 L964.5,1493.0 L968.3,1492.6 L972.2,1492.3 L976.0,1491.9 L979.9,1491.5 L983.7,1491.1 L987.5,1490.7 L991.4,1490.3 L995.2,1489.9 L999.0,1489.4 L1002.9,1489.0 L1006.7,1488.5 L1010.5,1488.1 L1014.4,1487.6 L1018.2,1487.1 L1022.0,1486.7 L1025.9,1486.2 L1029.7,1485.7 L1033.5,1485.2 L1037.3,1484.6 L1041.2,1484.1 L1045.0,1483.6 L1048.8,1483.0 L1052.6,1482.5 L1056.4,1481.9 L1060.2,1481.3 L1064.0,1480.7 L1067.9,1480.1 L1071.7,1479.5 L1075.5,1478.9 L1079.3,1478.2 L1083.1,1477.6 L1086.9,1476.9 L1090.7,1476.3 L1094.5,1475.6 L1098.3,1474.9 L1102.1,1474.2 L1105.8,1473.5 L1109.6,1472.7 L1113.4,1472.0 L1117.2,1471.2 L1121.0,1470.5 L1124.8,1469.7 L1128.5,1468.9 L1132.3,1468.1 L1136.1,1467.3 L1139.9,1466.4 L1143.6,1465.6 L1147.4,1464.7 L1151.2,1463.8 L1154.9,1463.0 L1158.7,1462.1 L1162.4,1461.1 L1166.2,1460.2 L1169.9,1459.3 L1173.7,1458.3 L1177.4,1457.3 L1181.1,1456.3 L1184.9,1455.3 L1188.6,1454.3 L1192.3,1453.2 L1196.0,1452.1 L1199.7,1451.1 L1203.4,1450.0 L1207.1,1448.8 L1210.8,1447.7 L1214.5,1446.5 L1218.2,1445.4 L1221.9,1444.2 L1225.5,1442.9 L1229.2,1441.7 L1232.8,1440.4 L1236.5,1439.1 L1240.1,1437.8 L1243.8,1436.5 L1247.4,1435.2 L1251.0,1433.8 L1254.6,1432.4 L1258.2,1431.0 L1261.8,1429.6 L1265.3,1428.1 L1268.9,1426.6 L1272.5,1425.1 L1276.0,1423.6 L1279.6,1422.0 L1283.1,1420.4 L1286.6,1418.8 L1290.1,1417.2 L1293.6,1415.5 L1297.1,1413.8 L1300.6,1412.1 L1304.0,1410.4 L1307.5,1408.6 L1310.9,1406.9 L1314.3,1405.1 L1317.8,1403.2 L1321.2,1401.4 L1324.5,1399.5 L1327.9,1397.6 L1331.3,1395.7 L1334.6,1393.8 L1338.0,1391.8 L1341.3,1389.8 L1344.6,1387.8 L1347.9,1385.8 L1351.2,1383.7 L1354.5,1381.6 L1357.8,1379.5 L1361.0,1377.4 L1364.2,1375.3 L1367.5,1373.1 L1370.7,1371.0 L1373.9,1368.8 L1377.0,1366.5 L1380.2,1364.3 L1383.3,1362.0 L1386.5,1359.8 L1389.6,1357.5 L1392.7,1355.1 L1395.8,1352.8 L1398.8,1350.5 L1401.9,1348.1 L1404.9,1345.7 L1408.0,1343.3 L1411.0,1340.8 L1413.9,1338.4 L1416.9,1335.9 L1419.9,1333.4 L1422.8,1330.9 L1425.7,1328.4 L1428.6,1325.9 L1431.5,1323.3 L1434.4,1320.8 L1437.3,1318.2 L1440.1,1315.6 L1442.9,1313.0 L1445.8,1310.3 L1448.6,1307.7 L1451.3,1305.0 L1454.1,1302.3 L1456.9,1299.6 L1459.6,1296.9 L1462.3,1294.2 L1465.0,1291.5 L1467.7,1288.7 L1470.4,1285.9 L1473.1,1283.1 L1475.7,1280.3 L1478.4,1277.5 L1481.0,1274.7 L1483.6,1271.9 L1486.2,1269.0 L1488.8,1266.1 L1491.3,1263.3 L1493.9,1260.4 L1496.4,1257.5 L1498.9,1254.5 L1501.5,1251.6 L1504.0,1248.7 L1506.4,1245.7 L1508.9,1242.7 L1511.4,1239.8 L1513.8,1236.8 L1516.3,1233.8 L1518.7,1230.8 L1521.1,1227.7 L1523.5,1224.7 L1525.9,1221.7 L1528.2,1218.6 L1530.6,1215.5 L1532.9,1212.5 L1535.3,1209.4 L1537.6,1206.3 L1539.9,1203.2 L1542.2,1200.1 L1544.5,1197.0 L1546.8,1193.8 L1549.0,1190.7 L1551.3,1187.5 L1553.5,1184.4 L1555.7,1181.2 L1558.0,1178.1 L1560.2,1174.9 L1562.4,1171.7 L1564.6,1168.5 L1566.7,1165.3 L1568.9,1162.1 L1571.0,1158.9 L1573.2,1155.7 L1575.3,1152.4 L1577.4,1149.2 L1579.6,1146.0 L1581.7,1142.7 L1583.7,1139.5 L1585.8,1136.2 L1587.9,1132.9 L1590.0,1129.7 L1592.0,1126.4 L1594.1,1123.1 L1596.1,1119.8 L1598.1,1116.5 L1600.1,1113.2 L1602.1,1109.9 L1604.1,1106.6 L1606.1,1103.3 L1608.1,1100.0 L1610.1,1096.7 L1612.0,1093.4 L1614.0,1090.0 L1615.9,1086.7 L1617.8,1083.4 L1619.8,1080.0 L1621.7,1076.7 L1623.6,1073.3 L1625.5,1070.0 L1627.4,1066.6 L1629.3,1063.3 L1631.2,1059.9 L1633.0,1056.5 L1634.9,1053.1 L1636.7,1049.8 L1638.6,1046.4 L1640.4,1043.0 L1642.3,1039.6 L1644.1,1036.2 L1645.9,1032.8 L1647.7,1029.4 L1649.5,1026.0 L1651.3,1022.6 L1653.1,1019.2 L1654.9,1015.8 L1656.7,1012.3 L1658.5,1008.9 L1660.2,1005.5 L1662.0,1002.1 L1663.7,998.6 L1665.5,995.2 L1667.2,991.7 L1669.0,988.3 L1670.7,984.9 L1672.4,981.4 L1674.1,978.0 L1675.9,974.5 L1677.6,971.0 L1679.3,967.6 L1681.0,964.1 L1682.7,960.7 L1684.4,957.2 L1686.0,953.7 L1687.7,950.2 L1689.4,946.8 L1691.1,943.3 L1692.7,939.8 L1694.4,936.3 L1696.0,932.8 L1697.7,929.3 L1699.3,925.9 L1701.0,922.4 L1702.6,918.9 L1704.3,915.4 L1705.9,911.9 L1707.5,908.4 L1709.2,904.9 L1710.8,901.4 L1712.4,897.9 L1714.0,894.3 L1715.6,890.8 L1717.2,887.3 L1718.8,883.8 L1720.4,880.3 L1722.0,876.8 L1723.6,873.3 L1725.2,869.7 L1726.8,866.2 L1728.4,862.7 L1730.0,859.2 L1731.6,855.7 L1733.2,852.1 L1734.8,848.6 L1736.3,845.1 L1737.9,841.6 L1739.5,838.0 L1741.1,834.5 L1742.7,831.0 L1744.2,827.4 L1745.8,823.9 L1747.4,820.4 L1748.9,816.8 L1750.5,813.3 L1752.1,809.8 L1753.6,806.2 L1755.2,802.7 L1756.8,799.2 L1758.3,795.6 L1759.9,792.1 L1761.5,788.6 L1763.0,785.0 L1764.6,781.5 L1766.1,777.9 L1767.7,774.4 L1769.3,770.9 L1770.8,767.3 L1772.4,763.8 L1774.0,760.3 L1775.5,756.7 L1777.1,753.2 L1778.6,749.7 L1780.2,746.1 L1781.8,742.6 L1783.3,739.1 L1784.9,735.5 L1786.5,732.0 L1788.1,728.5 L1789.6,724.9 L1791.2,721.4 L1792.8,717.9 L1794.4,714.3 L1795.9,710.8 L1797.5,707.3 L1799.1,703.8 L1800.7,700.2 L1802.3,696.7 L1803.8,693.2 L1805.4,689.7 L1807.0,686.1 L1808.6,682.6 L1810.2,679.1 L1811.8,675.6 L1813.4,672.1 L1815.0,668.6 L1816.6,665.1 L1818.3,661.6 L1819.9,658.0 L1821.5,654.5 L1823.1,651.0 L1824.7,647.5 L1826.4,644.0 L1828.0,640.5 L1829.6,637.0 L1831.3,633.5 L1832.9,630.0 L1834.6,626.6 L1836.2,623.1 L1837.9,619.6 L1839.5,616.1 L1841.2,612.6 L1842.9,609.1 L1844.5,605.7 L1846.2,602.2 L1847.9,598.7 L1849.6,595.2 L1851.3,591.8 L1853.0,588.3 L1854.7,584.9 L1856.4,581.4 L1858.1,577.9 L1859.8,574.5 L1861.5,571.0 L1863.3,567.6 L1865.0,564.2 L1866.8,560.7 L1868.5,557.3 L1870.3,553.9 L1872.1,550.5 L1873.9,547.0 L1875.7,543.6 L1877.5,540.2 L1879.3,536.8 L1881.1,533.4 L1883.0,530.0 L1884.8,526.7 L1886.7,523.3 L1888.6,519.9 L1890.5,516.6 L1892.5,513.2 L1894.4,509.9 L1896.4,506.6 L1898.3,503.3 L1900.3,499.9 L1902.3,496.6 L1904.4,493.3 L1906.4,490.1 L1908.5,486.8 L1910.6,483.5 L1912.7,480.3 L1914.8,477.0 L1917.0,473.8 L1919.1,470.6 L1921.3,467.4 L1923.5,464.2 L1925.7,461.0 L1927.9,457.8 L1930.1,454.6 L1932.3,451.5 L1934.5,448.3 L1936.8,445.2 L1939.1,442.1 L1941.4,439.1 L1943.8,436.1 L1946.2,433.2 L1948.7,430.3 L1951.2,427.4 L1953.8,424.7 L1956.5,422.0 L1959.3,419.3 L1962.1,416.7 L1965.0,414.2 L1967.9,411.8 L1971.0,409.5 L1974.1,407.2 L1977.3,405.0 L1980.6,402.9 L1984.0,400.9 L1987.5,398.9 L2000.6,397.7"/>
<path class="cv" stroke="#ee2840" clip-path="url(#bands)" d="M246.6,1512.3 L250.5,1512.3 L254.4,1512.3 L258.2,1512.3 L262.1,1512.3 L266.0,1512.3 L269.8,1512.3 L273.7,1512.3 L277.6,1512.3 L281.4,1512.3 L285.3,1512.3 L289.2,1512.3 L293.0,1512.3 L296.9,1512.3 L300.8,1512.3 L304.6,1512.3 L308.5,1512.3 L312.4,1512.3 L316.2,1512.3 L320.1,1512.3 L323.9,1512.3 L327.8,1512.3 L331.7,1512.3 L335.5,1512.3 L339.4,1512.3 L343.3,1512.3 L347.1,1512.3 L351.0,1512.3 L354.8,1512.3 L358.7,1512.3 L362.6,1512.3 L366.4,1512.2 L370.3,1512.2 L374.2,1512.2 L378.0,1512.2 L381.9,1512.2 L385.7,1512.2 L389.6,1512.2 L393.5,1512.2 L397.3,1512.2 L401.2,1512.2 L405.1,1512.1 L408.9,1512.1 L412.8,1512.1 L416.6,1512.1 L420.5,1512.1 L424.4,1512.1 L428.2,1512.1 L432.1,1512.0 L435.9,1512.0 L439.8,1512.0 L443.7,1512.0 L447.5,1512.0 L451.4,1511.9 L455.2,1511.9 L459.1,1511.9 L463.0,1511.9 L466.8,1511.8 L470.7,1511.8 L474.5,1511.8 L478.4,1511.7 L482.3,1511.7 L486.1,1511.7 L490.0,1511.6 L493.8,1511.6 L497.7,1511.6 L501.6,1511.5 L505.4,1511.5 L509.3,1511.5 L513.1,1511.4 L517.0,1511.4 L520.9,1511.3 L524.7,1511.3 L528.6,1511.3 L532.4,1511.2 L536.3,1511.2 L540.2,1511.1 L544.0,1511.1 L547.9,1511.0 L551.7,1511.0 L555.6,1510.9 L559.5,1510.8 L563.3,1510.8 L567.2,1510.7 L571.0,1510.7 L574.9,1510.6 L578.8,1510.5 L582.6,1510.5 L586.5,1510.4 L590.3,1510.3 L594.2,1510.3 L598.0,1510.2 L601.9,1510.1 L605.8,1510.1 L609.6,1510.0 L613.5,1509.9 L617.3,1509.8 L621.2,1509.8 L625.1,1509.7 L628.9,1509.6 L632.8,1509.5 L636.6,1509.4 L640.5,1509.3 L644.3,1509.2 L648.2,1509.1 L652.1,1509.0 L655.9,1508.9 L659.8,1508.8 L663.6,1508.7 L667.5,1508.6 L671.4,1508.5 L675.2,1508.4 L679.1,1508.3 L682.9,1508.2 L686.8,1508.1 L690.6,1508.0 L694.5,1507.9 L698.4,1507.8 L702.2,1507.6 L706.1,1507.5 L709.9,1507.4 L713.8,1507.3 L717.7,1507.1 L721.5,1507.0 L725.4,1506.9 L729.2,1506.7 L733.1,1506.6 L736.9,1506.5 L740.8,1506.3 L744.7,1506.2 L748.5,1506.0 L752.4,1505.9 L756.2,1505.7 L760.1,1505.6 L764.0,1505.4 L767.8,1505.3 L771.7,1505.1 L775.5,1504.9 L779.4,1504.8 L783.3,1504.6 L787.1,1504.4 L791.0,1504.3 L794.8,1504.1 L798.7,1503.9 L802.5,1503.7 L806.4,1503.6 L810.3,1503.4 L814.1,1503.2 L818.0,1503.0 L821.8,1502.8 L825.7,1502.6 L829.6,1502.4 L833.4,1502.2 L837.3,1502.0 L841.1,1501.8 L845.0,1501.6 L848.9,1501.4 L852.7,1501.2 L856.6,1500.9 L860.4,1500.7 L864.3,1500.5 L868.1,1500.3 L872.0,1500.0 L875.9,1499.8 L879.7,1499.6 L883.6,1499.3 L887.4,1499.1 L891.3,1498.8 L895.2,1498.6 L899.0,1498.3 L902.9,1498.0 L906.7,1497.8 L910.6,1497.5 L914.4,1497.2 L918.3,1496.9 L922.1,1496.6 L926.0,1496.3 L929.8,1496.0 L933.7,1495.7 L937.5,1495.4 L941.4,1495.1 L945.2,1494.8 L949.1,1494.4 L952.9,1494.1 L956.8,1493.7 L960.6,1493.4 L964.5,1493.0 L968.3,1492.6 L972.2,1492.3 L976.0,1491.9 L979.9,1491.5 L983.7,1491.1 L987.5,1490.7 L991.4,1490.3 L995.2,1489.9 L999.0,1489.4 L1002.9,1489.0 L1006.7,1488.5 L1010.5,1488.1 L1014.4,1487.6 L1018.2,1487.1 L1022.0,1486.7 L1025.9,1486.2 L1029.7,1485.7 L1033.5,1485.2 L1037.3,1484.6 L1041.2,1484.1 L1045.0,1483.6 L1048.8,1483.0 L1052.6,1482.5 L1056.4,1481.9 L1060.2,1481.3 L1064.0,1480.7 L1067.9,1480.1 L1071.7,1479.5 L1075.5,1478.9 L1079.3,1478.2 L1083.1,1477.6 L1086.9,1476.9 L1090.7,1476.3 L1094.5,1475.6 L1098.3,1474.9 L1102.1,1474.2 L1105.8,1473.5 L1109.6,1472.7 L1113.4,1472.0 L1117.2,1471.2 L1121.0,1470.5 L1124.8,1469.7 L1128.5,1468.9 L1132.3,1468.1 L1136.1,1467.3 L1139.9,1466.4 L1143.6,1465.6 L1147.4,1464.7 L1151.2,1463.8 L1154.9,1463.0 L1158.7,1462.1 L1162.4,1461.1 L1166.2,1460.2 L1169.9,1459.3 L1173.7,1458.3 L1177.4,1457.3 L1181.1,1456.3 L1184.9,1455.3 L1188.6,1454.3 L1192.3,1453.2 L1196.0,1452.1 L1199.7,1451.1 L1203.4,1450.0 L1207.1,1448.8 L1210.8,1447.7 L1214.5,1446.5 L1218.2,1445.4 L1221.9,1444.2 L1225.5,1442.9 L1229.2,1441.7 L1232.8,1440.4 L1236.5,1439.1 L1240.1,1437.8 L1243.8,1436.5 L1247.4,1435.2 L1251.0,1433.8 L1254.6,1432.4 L1258.2,1431.0 L1261.8,1429.6 L1265.3,1428.1 L1268.9,1426.6 L1272.5,1425.1 L1276.0,1423.6 L1279.6,1422.0 L1283.1,1420.4 L1286.6,1418.8 L1290.1,1417.2 L1293.6,1415.5 L1297.1,1413.8 L1300.6,1412.1 L1304.0,1410.4 L1307.5,1408.6 L1310.9,1406.9 L1314.3,1405.1 L1317.8,1403.2 L1321.2,1401.4 L1324.5,1399.5 L1327.9,1397.6 L1331.3,1395.7 L1334.6,1393.8 L1338.0,1391.8 L1341.3,1389.8 L1344.6,1387.8 L1347.9,1385.8 L1351.2,1383.7 L1354.5,1381.6 L1357.8,1379.5 L1361.0,1377.4 L1364.2,1375.3 L1367.5,1373.1 L1370.7,1371.0 L1373.9,1368.8 L1377.0,1366.5 L1380.2,1364.3 L1383.3,1362.0 L1386.5,1359.8 L1389.6,1357.5 L1392.7,1355.1 L1395.8,1352.8 L1398.8,1350.5 L1401.9,1348.1 L1404.9,1345.7 L1408.0,1343.3 L1411.0,1340.8 L1413.9,1338.4 L1416.9,1335.9 L1419.9,1333.4 L1422.8,1330.9 L1425.7,1328.4 L1428.6,1325.9 L1431.5,1323.3 L1434.4,1320.8 L1437.3,1318.2 L1440.1,1315.6 L1442.9,1313.0 L1445.8,1310.3 L1448.6,1307.7 L1451.3,1305.0 L1454.1,1302.3 L1456.9,1299.6 L1459.6,1296.9 L1462.3,1294.2 L1465.0,1291.5 L1467.7,1288.7 L1470.4,1285.9 L1473.1,1283.1 L1475.7,1280.3 L1478.4,1277.5 L1481.0,1274.7 L1483.6,1271.9 L1486.2,1269.0 L1488.8,1266.1 L1491.3,1263.3 L1493.9,1260.4 L1496.4,1257.5 L1498.9,1254.5 L1501.5,1251.6 L1504.0,1248.7 L1506.4,1245.7 L1508.9,1242.7 L1511.4,1239.8 L1513.8,1236.8 L1516.3,1233.8 L1518.7,1230.8 L1521.1,1227.7 L1523.5,1224.7 L1525.9,1221.7 L1528.2,1218.6 L1530.6,1215.5 L1532.9,1212.5 L1535.3,1209.4 L1537.6,1206.3 L1539.9,1203.2 L1542.2,1200.1 L1544.5,1197.0 L1546.8,1193.8 L1549.0,1190.7 L1551.3,1187.5 L1553.5,1184.4 L1555.7,1181.2 L1558.0,1178.1 L1560.2,1174.9 L1562.4,1171.7 L1564.6,1168.5 L1566.7,1165.3 L1568.9,1162.1 L1571.0,1158.9 L1573.2,1155.7 L1575.3,1152.4 L1577.4,1149.2 L1579.6,1146.0 L1581.7,1142.7 L1583.7,1139.5 L1585.8,1136.2 L1587.9,1132.9 L1590.0,1129.7 L1592.0,1126.4 L1594.1,1123.1 L1596.1,1119.8 L1598.1,1116.5 L1600.1,1113.2 L1602.1,1109.9 L1604.1,1106.6 L1606.1,1103.3 L1608.1,1100.0 L1610.1,1096.7 L1612.0,1093.4 L1614.0,1090.0 L1615.9,1086.7 L1617.8,1083.4 L1619.8,1080.0 L1621.7,1076.7 L1623.6,1073.3 L1625.5,1070.0 L1627.4,1066.6 L1629.3,1063.3 L1631.2,1059.9 L1633.0,1056.5 L1634.9,1053.1 L1636.7,1049.8 L1638.6,1046.4 L1640.4,1043.0 L1642.3,1039.6 L1644.1,1036.2 L1645.9,1032.8 L1647.7,1029.4 L1649.5,1026.0 L1651.3,1022.6 L1653.1,1019.2 L1654.9,1015.8 L1656.7,1012.3 L1658.5,1008.9 L1660.2,1005.5 L1662.0,1002.1 L1663.7,998.6 L1665.5,995.2 L1667.2,991.7 L1669.0,988.3 L1670.7,984.9 L1672.4,981.4 L1674.1,978.0 L1675.9,974.5 L1677.6,971.0 L1679.3,967.6 L1681.0,964.1 L1682.7,960.7 L1684.4,957.2 L1686.0,953.7 L1687.7,950.2 L1689.4,946.8 L1691.1,943.3 L1692.7,939.8 L1694.4,936.3 L1696.0,932.8 L1697.7,929.3 L1699.3,925.9 L1701.0,922.4 L1702.6,918.9 L1704.3,915.4 L1705.9,911.9 L1707.5,908.4 L1709.2,904.9 L1710.8,901.4 L1712.4,897.9 L1714.0,894.3 L1715.6,890.8 L1717.2,887.3 L1718.8,883.8 L1720.4,880.3 L1722.0,876.8 L1723.6,873.3 L1725.2,869.7 L1726.8,866.2 L1728.4,862.7 L1730.0,859.2 L1731.6,855.7 L1733.2,852.1 L1734.8,848.6 L1736.3,845.1 L1737.9,841.6 L1739.5,838.0 L1741.1,834.5 L1742.7,831.0 L1744.2,827.4 L1745.8,823.9 L1747.4,820.4 L1748.9,816.8 L1750.5,813.3 L1752.1,809.8 L1753.6,806.2 L1755.2,802.7 L1756.8,799.2 L1758.3,795.6 L1759.9,792.1 L1761.5,788.6 L1763.0,785.0 L1764.6,781.5 L1766.1,777.9 L1767.7,774.4 L1769.3,770.9 L1770.8,767.3 L1772.4,763.8 L1774.0,760.3 L1775.5,756.7 L1777.1,753.2 L1778.6,749.7 L1780.2,746.1 L1781.8,742.6 L1783.3,739.1 L1784.9,735.5 L1786.5,732.0 L1788.1,728.5 L1789.6,724.9 L1791.2,721.4 L1792.8,717.9 L1794.4,714.3 L1795.9,710.8 L1797.5,707.3 L1799.1,703.8 L1800.7,700.2 L1802.3,696.7 L1803.8,693.2 L1805.4,689.7 L1807.0,686.1 L1808.6,682.6 L1810.2,679.1 L1811.8,675.6 L1813.4,672.1 L1815.0,668.6 L1816.6,665.1 L1818.3,661.6 L1819.9,658.0 L1821.5,654.5 L1823.1,651.0 L1824.7,647.5 L1826.4,644.0 L1828.0,640.5 L1829.6,637.0 L1831.3,633.5 L1832.9,630.0 L1834.6,626.6 L1836.2,623.1 L1837.9,619.6 L1839.5,616.1 L1841.2,612.6 L1842.9,609.1 L1844.5,605.7 L1846.2,602.2 L1847.9,598.7 L1849.6,595.2 L1851.3,591.8 L1853.0,588.3 L1854.7,584.9 L1856.4,581.4 L1858.1,577.9 L1859.8,574.5 L1861.5,571.0 L1863.3,567.6 L1865.0,564.2 L1866.8,560.7 L1868.5,557.3 L1870.3,553.9 L1872.1,550.5 L1873.9,547.0 L1875.7,543.6 L1877.5,540.2 L1879.3,536.8 L1881.1,533.4 L1883.0,530.0 L1884.8,526.7 L1886.7,523.3 L1888.6,519.9 L1890.5,516.6 L1892.5,513.2 L1894.4,509.9 L1896.4,506.6 L1898.3,503.3 L1900.3,499.9 L1902.3,496.6 L1904.4,493.3 L1906.4,490.1 L1908.5,486.8 L1910.6,483.5 L1912.7,480.3 L1914.8,477.0 L1917.0,473.8 L1919.1,470.6 L1921.3,467.4 L1923.5,464.2 L1925.7,461.0 L1927.9,457.8 L1930.1,454.6 L1932.3,451.5 L1934.5,448.3 L1936.8,445.2 L1939.1,442.1 L1941.4,439.1 L1943.8,436.1 L1946.2,433.2 L1948.7,430.3 L1951.2,427.4 L1953.8,424.7 L1956.5,422.0 L1959.3,419.3 L1962.1,416.7 L1965.0,414.2 L1967.9,411.8 L1971.0,409.5 L1974.1,407.2 L1977.3,405.0 L1980.6,402.9 L1984.0,400.9 L1987.5,398.9 L2000.6,397.7"/>
<path class="cv" stroke="#0000ff" d="M246.7,1512.0 L250.4,1512.0 L254.2,1511.9 L258.0,1511.9 L261.7,1511.8 L265.5,1511.8 L269.3,1511.8 L273.1,1511.7 L276.9,1511.7 L280.6,1511.7 L284.4,1511.6 L288.2,1511.6 L292.0,1511.5 L295.7,1511.5 L299.5,1511.5 L303.3,1511.4 L307.1,1511.4 L310.9,1511.4 L314.6,1511.3 L318.4,1511.3 L322.2,1511.3 L326.0,1511.2 L329.8,1511.2 L333.5,1511.1 L337.3,1511.1 L341.1,1511.1 L344.9,1511.0 L348.7,1511.0 L352.4,1510.9 L356.2,1510.9 L360.0,1510.9 L363.8,1510.8 L367.6,1510.8 L371.4,1510.7 L375.1,1510.7 L378.9,1510.6 L382.7,1510.6 L386.5,1510.5 L390.3,1510.5 L394.1,1510.4 L397.8,1510.4 L401.6,1510.3 L405.4,1510.3 L409.2,1510.2 L413.0,1510.1 L416.8,1510.1 L420.6,1510.0 L424.3,1509.9 L428.1,1509.9 L431.9,1509.8 L435.7,1509.7 L439.5,1509.7 L443.3,1509.6 L447.0,1509.5 L450.8,1509.4 L454.6,1509.4 L458.4,1509.3 L462.2,1509.2 L466.0,1509.1 L469.8,1509.0 L473.5,1508.9 L477.3,1508.8 L481.1,1508.7 L484.9,1508.6 L488.7,1508.5 L492.5,1508.4 L496.2,1508.3 L500.0,1508.2 L503.8,1508.1 L507.6,1508.0 L511.4,1507.8 L515.2,1507.7 L518.9,1507.6 L522.7,1507.5 L526.5,1507.3 L530.3,1507.2 L534.1,1507.1 L537.9,1506.9 L541.6,1506.8 L545.4,1506.6 L549.2,1506.5 L553.0,1506.3 L556.8,1506.2 L560.6,1506.0 L564.3,1505.8 L568.1,1505.6 L571.9,1505.5 L575.7,1505.3 L579.5,1505.1 L583.2,1504.9 L587.0,1504.7 L590.8,1504.5 L594.6,1504.3 L598.3,1504.1 L602.1,1503.9 L605.9,1503.7 L609.7,1503.5 L613.5,1503.3 L617.2,1503.0 L621.0,1502.8 L624.8,1502.6 L628.6,1502.3 L632.3,1502.1 L636.1,1501.8 L639.9,1501.6 L643.6,1501.3 L647.4,1501.1 L651.2,1500.8 L655.0,1500.5 L658.7,1500.2 L662.5,1500.0 L666.3,1499.7 L670.0,1499.4 L673.8,1499.1 L677.6,1498.8 L681.4,1498.4 L685.1,1498.1 L688.9,1497.8 L692.7,1497.5 L696.4,1497.1 L700.2,1496.8 L704.0,1496.5 L707.7,1496.1 L711.5,1495.8 L715.2,1495.4 L719.0,1495.0 L722.8,1494.6 L726.5,1494.3 L730.3,1493.9 L734.0,1493.5 L737.8,1493.1 L741.6,1492.7 L745.3,1492.2 L749.1,1491.8 L752.8,1491.4 L756.6,1490.9 L760.3,1490.5 L764.1,1490.0 L767.8,1489.6 L771.6,1489.1 L775.3,1488.6 L779.1,1488.2 L782.8,1487.7 L786.6,1487.2 L790.3,1486.7 L794.1,1486.1 L797.8,1485.6 L801.5,1485.1 L805.3,1484.5 L809.0,1484.0 L812.8,1483.4 L816.5,1482.9 L820.2,1482.3 L824.0,1481.7 L827.7,1481.1 L831.4,1480.5 L835.1,1479.9 L838.9,1479.3 L842.6,1478.6 L846.3,1478.0 L850.0,1477.4 L853.8,1476.7 L857.5,1476.0 L861.2,1475.3 L864.9,1474.6 L868.6,1473.9 L872.3,1473.2 L876.0,1472.5 L879.8,1471.8 L883.5,1471.0 L887.2,1470.3 L890.9,1469.5 L894.6,1468.7 L898.3,1468.0 L902.0,1467.2 L905.7,1466.4 L909.4,1465.5 L913.1,1464.7 L916.7,1463.9 L920.4,1463.0 L924.1,1462.1 L927.8,1461.3 L931.5,1460.4 L935.2,1459.5 L938.8,1458.6 L942.5,1457.6 L946.2,1456.7 L949.9,1455.8 L953.5,1454.8 L957.2,1453.8 L960.9,1452.8 L964.5,1451.8 L968.2,1450.8 L971.8,1449.8 L975.5,1448.7 L979.1,1447.7 L982.8,1446.6 L986.4,1445.5 L990.0,1444.4 L993.7,1443.3 L997.3,1442.2 L1000.9,1441.0 L1004.5,1439.9 L1008.1,1438.7 L1011.7,1437.5 L1015.3,1436.3 L1018.9,1435.0 L1022.4,1433.8 L1026.0,1432.5 L1029.6,1431.2 L1033.1,1429.9 L1036.7,1428.6 L1040.2,1427.2 L1043.7,1425.9 L1047.3,1424.5 L1050.8,1423.1 L1054.3,1421.7 L1057.8,1420.2 L1061.3,1418.8 L1064.7,1417.3 L1068.2,1415.8 L1071.7,1414.2 L1075.1,1412.7 L1078.5,1411.1 L1082.0,1409.5 L1085.4,1407.9 L1088.8,1406.3 L1092.2,1404.6 L1095.5,1403.0 L1098.9,1401.3 L1102.3,1399.5 L1105.6,1397.8 L1109.0,1396.0 L1112.3,1394.2 L1115.6,1392.4 L1118.9,1390.6 L1122.2,1388.8 L1125.5,1386.9 L1128.7,1385.0 L1132.0,1383.1 L1135.3,1381.2 L1138.5,1379.3 L1141.7,1377.3 L1144.9,1375.3 L1148.1,1373.3 L1151.3,1371.3 L1154.5,1369.3 L1157.7,1367.2 L1160.9,1365.2 L1164.0,1363.1 L1167.1,1361.0 L1170.3,1358.9 L1173.4,1356.7 L1176.5,1354.6 L1179.6,1352.4 L1182.7,1350.2 L1185.7,1348.0 L1188.8,1345.8 L1191.9,1343.6 L1194.9,1341.3 L1197.9,1339.1 L1200.9,1336.8 L1203.9,1334.5 L1206.9,1332.2 L1209.9,1329.9 L1212.9,1327.5 L1215.9,1325.2 L1218.8,1322.8 L1221.7,1320.4 L1224.7,1318.0 L1227.6,1315.6 L1230.5,1313.2 L1233.4,1310.7 L1236.2,1308.3 L1239.1,1305.8 L1242.0,1303.3 L1244.8,1300.8 L1247.6,1298.3 L1250.4,1295.8 L1253.2,1293.2 L1256.0,1290.7 L1258.8,1288.1 L1261.6,1285.5 L1264.3,1282.9 L1267.1,1280.3 L1269.8,1277.7 L1272.5,1275.0 L1275.2,1272.4 L1277.9,1269.7 L1280.6,1267.0 L1283.2,1264.3 L1285.9,1261.6 L1288.5,1258.9 L1291.2,1256.2 L1293.8,1253.4 L1296.4,1250.7 L1298.9,1247.9 L1301.5,1245.1 L1304.1,1242.3 L1306.6,1239.5 L1309.1,1236.7 L1311.6,1233.9 L1314.1,1231.0 L1316.6,1228.2 L1319.1,1225.3 L1321.6,1222.4 L1324.0,1219.5 L1326.4,1216.6 L1328.8,1213.7 L1331.2,1210.8 L1333.6,1207.8 L1336.0,1204.9 L1338.4,1201.9 L1340.7,1198.9 L1343.0,1195.9 L1345.4,1192.9 L1347.7,1189.9 L1350.0,1186.9 L1352.2,1183.9 L1354.5,1180.9 L1356.8,1177.8 L1359.0,1174.8 L1361.2,1171.7 L1363.4,1168.6 L1365.6,1165.5 L1367.8,1162.4 L1370.0,1159.3 L1372.1,1156.2 L1374.3,1153.1 L1376.4,1150.0 L1378.5,1146.8 L1380.7,1143.7 L1382.8,1140.5 L1384.8,1137.4 L1386.9,1134.2 L1389.0,1131.0 L1391.0,1127.9 L1393.1,1124.7 L1395.1,1121.5 L1397.1,1118.3 L1399.1,1115.0 L1401.1,1111.8 L1403.0,1108.6 L1405.0,1105.4 L1407.0,1102.1 L1408.9,1098.9 L1410.8,1095.6 L1412.7,1092.4 L1414.7,1089.1 L1416.5,1085.9 L1418.4,1082.6 L1420.3,1079.3 L1422.2,1076.0 L1424.0,1072.7 L1425.9,1069.4 L1427.7,1066.1 L1429.5,1062.8 L1431.3,1059.5 L1433.1,1056.2 L1434.9,1052.8 L1436.7,1049.5 L1438.5,1046.2 L1440.2,1042.8 L1442.0,1039.5 L1443.7,1036.1 L1445.4,1032.8 L1447.2,1029.4 L1448.9,1026.1 L1450.6,1022.7 L1452.3,1019.3 L1454.0,1015.9 L1455.7,1012.6 L1457.3,1009.2 L1459.0,1005.8 L1460.6,1002.4 L1462.3,999.0 L1463.9,995.6 L1465.6,992.2 L1467.2,988.8 L1468.8,985.3 L1470.4,981.9 L1472.0,978.5 L1473.6,975.1 L1475.2,971.6 L1476.8,968.2 L1478.3,964.8 L1479.9,961.3 L1481.5,957.9 L1483.0,954.4 L1484.5,951.0 L1486.1,947.5 L1487.6,944.1 L1489.1,940.6 L1490.7,937.1 L1492.2,933.7 L1493.7,930.2 L1495.2,926.7 L1496.7,923.3 L1498.2,919.8 L1499.7,916.3 L1501.1,912.8 L1502.6,909.3 L1504.1,905.9 L1505.6,902.4 L1507.0,898.9 L1508.5,895.4 L1509.9,891.9 L1511.4,888.4 L1512.8,884.9 L1514.3,881.4 L1515.7,877.9 L1517.1,874.4 L1518.6,870.9 L1520.0,867.4 L1521.4,863.9 L1522.8,860.4 L1524.2,856.9 L1525.6,853.4 L1527.0,849.9 L1528.4,846.4 L1529.8,842.9 L1531.2,839.3 L1532.6,835.8 L1534.0,832.3 L1535.4,828.8 L1536.8,825.3 L1538.2,821.8 L1539.6,818.2 L1540.9,814.7 L1542.3,811.2 L1543.7,807.7 L1545.0,804.1 L1546.4,800.6 L1547.8,797.1 L1549.1,793.6 L1550.5,790.0 L1551.8,786.5 L1553.2,783.0 L1554.5,779.4 L1555.9,775.9 L1557.2,772.4 L1558.5,768.8 L1559.9,765.3 L1561.2,761.8 L1562.5,758.2 L1563.9,754.7 L1565.2,751.2 L1566.5,747.6 L1567.8,744.1 L1569.1,740.5 L1570.5,737.0 L1571.8,733.4 L1573.1,729.9 L1574.4,726.3 L1575.7,722.8 L1577.0,719.2 L1578.3,715.7 L1579.6,712.1 L1580.9,708.6 L1582.2,705.0 L1583.5,701.5 L1584.8,697.9 L1586.0,694.4 L1587.3,690.8 L1588.6,687.2 L1589.9,683.7 L1591.2,680.1 L1592.4,676.6 L1593.7,673.0 L1595.0,669.4 L1596.3,665.9 L1597.5,662.3 L1598.8,658.7 L1600.1,655.2 L1601.4,651.6 L1602.6,648.0 L1603.9,644.5 L1605.2,640.9 L1606.5,637.4 L1607.7,633.8 L1609.0,630.2 L1610.3,626.7 L1611.6,623.1 L1612.9,619.5 L1614.2,616.0 L1615.4,612.4 L1616.7,608.9 L1618.0,605.3 L1619.3,601.7 L1620.6,598.2 L1621.9,594.6 L1623.2,591.1 L1624.5,587.5 L1625.8,584.0 L1627.1,580.4 L1628.4,576.9 L1629.7,573.3 L1631.1,569.8 L1632.4,566.2 L1633.7,562.7 L1635.1,559.2 L1636.4,555.6 L1637.7,552.1 L1639.1,548.6 L1640.4,545.0 L1641.8,541.5 L1643.2,538.0 L1644.5,534.4 L1645.9,530.9 L1647.3,527.4 L1648.7,523.9 L1650.1,520.4 L1651.5,516.9 L1652.9,513.4 L1654.3,509.9 L1655.7,506.4 L1657.2,502.9 L1658.6,499.4 L1660.0,495.9 L1661.5,492.4 L1662.9,488.9 L1664.4,485.4 L1665.9,481.9 L1667.4,478.5 L1668.9,475.0 L1670.4,471.5 L1671.9,468.1 L1673.4,464.6 L1674.9,461.2 L1676.5,457.7 L1678.0,454.3 L1679.6,450.8 L1681.1,447.4 L1682.7,443.9 L1684.3,440.5 L1685.9,437.1 L1687.5,433.7 L1689.2,430.3 L1690.8,426.9 L1692.5,423.5 L1694.1,420.1 L1695.8,416.7 L1697.5,413.3 L1699.2,409.9 L1701.0,406.6 L1702.7,403.2 L1704.5,399.9 L1706.2,396.5 L1708.0,393.2 L1709.9,389.8 L1711.7,386.5 L1713.5,383.2 L1715.4,379.9 L1717.3,376.6 L1719.2,373.3 L1721.1,370.0 L1723.1,366.8 L1725.1,363.5 L1727.1,360.3 L1729.1,357.1 L1731.2,353.9 L1733.3,350.8 L1735.4,347.6 L1737.6,344.5 L1739.8,341.5 L1742.1,338.5 L1744.4,335.5 L1746.7,332.6 L1749.1,329.7 L1751.5,326.8 L1754.0,324.0 L1756.5,321.3 L1759.1,318.6 L1761.7,316.0 L1764.4,313.4 L1767.2,310.9 L1770.0,308.5 L1772.9,306.2 L1775.9,303.9 L1778.9,301.7 L1781.9,299.5 L1785.1,297.5 L1788.3,295.5 L1791.6,293.6 L1794.9,291.7 L1798.3,289.9 L1801.7,288.2 L1805.1,286.5 L1808.6,284.8 L1812.1,283.1 L1815.5,281.5 L1819.0,279.9 L1822.5,278.3 L1826.0,276.6 L1829.4,275.0 L1832.8,273.3 L1836.2,271.7 L1839.5,269.9 L1842.8,268.2 L1846.1,266.4"/>
<path class="cv" stroke="#3355aa" clip-path="url(#bands)" d="M246.7,1512.0 L250.4,1512.0 L254.2,1511.9 L258.0,1511.9 L261.7,1511.8 L265.5,1511.8 L269.3,1511.8 L273.1,1511.7 L276.9,1511.7 L280.6,1511.7 L284.4,1511.6 L288.2,1511.6 L292.0,1511.5 L295.7,1511.5 L299.5,1511.5 L303.3,1511.4 L307.1,1511.4 L310.9,1511.4 L314.6,1511.3 L318.4,1511.3 L322.2,1511.3 L326.0,1511.2 L329.8,1511.2 L333.5,1511.1 L337.3,1511.1 L341.1,1511.1 L344.9,1511.0 L348.7,1511.0 L352.4,1510.9 L356.2,1510.9 L360.0,1510.9 L363.8,1510.8 L367.6,1510.8 L371.4,1510.7 L375.1,1510.7 L378.9,1510.6 L382.7,1510.6 L386.5,1510.5 L390.3,1510.5 L394.1,1510.4 L397.8,1510.4 L401.6,1510.3 L405.4,1510.3 L409.2,1510.2 L413.0,1510.1 L416.8,1510.1 L420.6,1510.0 L424.3,1509.9 L428.1,1509.9 L431.9,1509.8 L435.7,1509.7 L439.5,1509.7 L443.3,1509.6 L447.0,1509.5 L450.8,1509.4 L454.6,1509.4 L458.4,1509.3 L462.2,1509.2 L466.0,1509.1 L469.8,1509.0 L473.5,1508.9 L477.3,1508.8 L481.1,1508.7 L484.9,1508.6 L488.7,1508.5 L492.5,1508.4 L496.2,1508.3 L500.0,1508.2 L503.8,1508.1 L507.6,1508.0 L511.4,1507.8 L515.2,1507.7 L518.9,1507.6 L522.7,1507.5 L526.5,1507.3 L530.3,1507.2 L534.1,1507.1 L537.9,1506.9 L541.6,1506.8 L545.4,1506.6 L549.2,1506.5 L553.0,1506.3 L556.8,1506.2 L560.6,1506.0 L564.3,1505.8 L568.1,1505.6 L571.9,1505.5 L575.7,1505.3 L579.5,1505.1 L583.2,1504.9 L587.0,1504.7 L590.8,1504.5 L594.6,1504.3 L598.3,1504.1 L602.1,1503.9 L605.9,1503.7 L609.7,1503.5 L613.5,1503.3 L617.2,1503.0 L621.0,1502.8 L624.8,1502.6 L628.6,1502.3 L632.3,1502.1 L636.1,1501.8 L639.9,1501.6 L643.6,1501.3 L647.4,1501.1 L651.2,1500.8 L655.0,1500.5 L658.7,1500.2 L662.5,1500.0 L666.3,1499.7 L670.0,1499.4 L673.8,1499.1 L677.6,1498.8 L681.4,1498.4 L685.1,1498.1 L688.9,1497.8 L692.7,1497.5 L696.4,1497.1 L700.2,1496.8 L704.0,1496.5 L707.7,1496.1 L711.5,1495.8 L715.2,1495.4 L719.0,1495.0 L722.8,1494.6 L726.5,1494.3 L730.3,1493.9 L734.0,1493.5 L737.8,1493.1 L741.6,1492.7 L745.3,1492.2 L749.1,1491.8 L752.8,1491.4 L756.6,1490.9 L760.3,1490.5 L764.1,1490.0 L767.8,1489.6 L771.6,1489.1 L775.3,1488.6 L779.1,1488.2 L782.8,1487.7 L786.6,1487.2 L790.3,1486.7 L794.1,1486.1 L797.8,1485.6 L801.5,1485.1 L805.3,1484.5 L809.0,1484.0 L812.8,1483.4 L816.5,1482.9 L820.2,1482.3 L824.0,1481.7 L827.7,1481.1 L831.4,1480.5 L835.1,1479.9 L838.9,1479.3 L842.6,1478.6 L846.3,1478.0 L850.0,1477.4 L853.8,1476.7 L857.5,1476.0 L861.2,1475.3 L864.9,1474.6 L868.6,1473.9 L872.3,1473.2 L876.0,1472.5 L879.8,1471.8 L883.5,1471.0 L887.2,1470.3 L890.9,1469.5 L894.6,1468.7 L898.3,1468.0 L902.0,1467.2 L905.7,1466.4 L909.4,1465.5 L913.1,1464.7 L916.7,1463.9 L920.4,1463.0 L924.1,1462.1 L927.8,1461.3 L931.5,1460.4 L935.2,1459.5 L938.8,1458.6 L942.5,1457.6 L946.2,1456.7 L949.9,1455.8 L953.5,1454.8 L957.2,1453.8 L960.9,1452.8 L964.5,1451.8 L968.2,1450.8 L971.8,1449.8 L975.5,1448.7 L979.1,1447.7 L982.8,1446.6 L986.4,1445.5 L990.0,1444.4 L993.7,1443.3 L997.3,1442.2 L1000.9,1441.0 L1004.5,1439.9 L1008.1,1438.7 L1011.7,1437.5 L1015.3,1436.3 L1018.9,1435.0 L1022.4,1433.8 L1026.0,1432.5 L1029.6,1431.2 L1033.1,1429.9 L1036.7,1428.6 L1040.2,1427.2 L1043.7,1425.9 L1047.3,1424.5 L1050.8,1423.1 L1054.3,1421.7 L1057.8,1420.2 L1061.3,1418.8 L1064.7,1417.3 L1068.2,1415.8 L1071.7,1414.2 L1075.1,1412.7 L1078.5,1411.1 L1082.0,1409.5 L1085.4,1407.9 L1088.8,1406.3 L1092.2,1404.6 L1095.5,1403.0 L1098.9,1401.3 L1102.3,1399.5 L1105.6,1397.8 L1109.0,1396.0 L1112.3,1394.2 L1115.6,1392.4 L1118.9,1390.6 L1122.2,1388.8 L1125.5,1386.9 L1128.7,1385.0 L1132.0,1383.1 L1135.3,1381.2 L1138.5,1379.3 L1141.7,1377.3 L1144.9,1375.3 L1148.1,1373.3 L1151.3,1371.3 L1154.5,1369.3 L1157.7,1367.2 L1160.9,1365.2 L1164.0,1363.1 L1167.1,1361.0 L1170.3,1358.9 L1173.4,1356.7 L1176.5,1354.6 L1179.6,1352.4 L1182.7,1350.2 L1185.7,1348.0 L1188.8,1345.8 L1191.9,1343.6 L1194.9,1341.3 L1197.9,1339.1 L1200.9,1336.8 L1203.9,1334.5 L1206.9,1332.2 L1209.9,1329.9 L1212.9,1327.5 L1215.9,1325.2 L1218.8,1322.8 L1221.7,1320.4 L1224.7,1318.0 L1227.6,1315.6 L1230.5,1313.2 L1233.4,1310.7 L1236.2,1308.3 L1239.1,1305.8 L1242.0,1303.3 L1244.8,1300.8 L1247.6,1298.3 L1250.4,1295.8 L1253.2,1293.2 L1256.0,1290.7 L1258.8,1288.1 L1261.6,1285.5 L1264.3,1282.9 L1267.1,1280.3 L1269.8,1277.7 L1272.5,1275.0 L1275.2,1272.4 L1277.9,1269.7 L1280.6,1267.0 L1283.2,1264.3 L1285.9,1261.6 L1288.5,1258.9 L1291.2,1256.2 L1293.8,1253.4 L1296.4,1250.7 L1298.9,1247.9 L1301.5,1245.1 L1304.1,1242.3 L1306.6,1239.5 L1309.1,1236.7 L1311.6,1233.9 L1314.1,1231.0 L1316.6,1228.2 L1319.1,1225.3 L1321.6,1222.4 L1324.0,1219.5 L1326.4,1216.6 L1328.8,1213.7 L1331.2,1210.8 L1333.6,1207.8 L1336.0,1204.9 L1338.4,1201.9 L1340.7,1198.9 L1343.0,1195.9 L1345.4,1192.9 L1347.7,1189.9 L1350.0,1186.9 L1352.2,1183.9 L1354.5,1180.9 L1356.8,1177.8 L1359.0,1174.8 L1361.2,1171.7 L1363.4,1168.6 L1365.6,1165.5 L1367.8,1162.4 L1370.0,1159.3 L1372.1,1156.2 L1374.3,1153.1 L1376.4,1150.0 L1378.5,1146.8 L1380.7,1143.7 L1382.8,1140.5 L1384.8,1137.4 L1386.9,1134.2 L1389.0,1131.0 L1391.0,1127.9 L1393.1,1124.7 L1395.1,1121.5 L1397.1,1118.3 L1399.1,1115.0 L1401.1,1111.8 L1403.0,1108.6 L1405.0,1105.4 L1407.0,1102.1 L1408.9,1098.9 L1410.8,1095.6 L1412.7,1092.4 L1414.7,1089.1 L1416.5,1085.9 L1418.4,1082.6 L1420.3,1079.3 L1422.2,1076.0 L1424.0,1072.7 L1425.9,1069.4 L1427.7,1066.1 L1429.5,1062.8 L1431.3,1059.5 L1433.1,1056.2 L1434.9,1052.8 L1436.7,1049.5 L1438.5,1046.2 L1440.2,1042.8 L1442.0,1039.5 L1443.7,1036.1 L1445.4,1032.8 L1447.2,1029.4 L1448.9,1026.1 L1450.6,1022.7 L1452.3,1019.3 L1454.0,1015.9 L1455.7,1012.6 L1457.3,1009.2 L1459.0,1005.8 L1460.6,1002.4 L1462.3,999.0 L1463.9,995.6 L1465.6,992.2 L1467.2,988.8 L1468.8,985.3 L1470.4,981.9 L1472.0,978.5 L1473.6,975.1 L1475.2,971.6 L1476.8,968.2 L1478.3,964.8 L1479.9,961.3 L1481.5,957.9 L1483.0,954.4 L1484.5,951.0 L1486.1,947.5 L1487.6,944.1 L1489.1,940.6 L1490.7,937.1 L1492.2,933.7 L1493.7,930.2 L1495.2,926.7 L1496.7,923.3 L1498.2,919.8 L1499.7,916.3 L1501.1,912.8 L1502.6,909.3 L1504.1,905.9 L1505.6,902.4 L1507.0,898.9 L1508.5,895.4 L1509.9,891.9 L1511.4,888.4 L1512.8,884.9 L1514.3,881.4 L1515.7,877.9 L1517.1,874.4 L1518.6,870.9 L1520.0,867.4 L1521.4,863.9 L1522.8,860.4 L1524.2,856.9 L1525.6,853.4 L1527.0,849.9 L1528.4,846.4 L1529.8,842.9 L1531.2,839.3 L1532.6,835.8 L1534.0,832.3 L1535.4,828.8 L1536.8,825.3 L1538.2,821.8 L1539.6,818.2 L1540.9,814.7 L1542.3,811.2 L1543.7,807.7 L1545.0,804.1 L1546.4,800.6 L1547.8,797.1 L1549.1,793.6 L1550.5,790.0 L1551.8,786.5 L1553.2,783.0 L1554.5,779.4 L1555.9,775.9 L1557.2,772.4 L1558.5,768.8 L1559.9,765.3 L1561.2,761.8 L1562.5,758.2 L1563.9,754.7 L1565.2,751.2 L1566.5,747.6 L1567.8,744.1 L1569.1,740.5 L1570.5,737.0 L1571.8,733.4 L1573.1,729.9 L1574.4,726.3 L1575.7,722.8 L1577.0,719.2 L1578.3,715.7 L1579.6,712.1 L1580.9,708.6 L1582.2,705.0 L1583.5,701.5 L1584.8,697.9 L1586.0,694.4 L1587.3,690.8 L1588.6,687.2 L1589.9,683.7 L1591.2,680.1 L1592.4,676.6 L1593.7,673.0 L1595.0,669.4 L1596.3,665.9 L1597.5,662.3 L1598.8,658.7 L1600.1,655.2 L1601.4,651.6 L1602.6,648.0 L1603.9,644.5 L1605.2,640.9 L1606.5,637.4 L1607.7,633.8 L1609.0,630.2 L1610.3,626.7 L1611.6,623.1 L1612.9,619.5 L1614.2,616.0 L1615.4,612.4 L1616.7,608.9 L1618.0,605.3 L1619.3,601.7 L1620.6,598.2 L1621.9,594.6 L1623.2,591.1 L1624.5,587.5 L1625.8,584.0 L1627.1,580.4 L1628.4,576.9 L1629.7,573.3 L1631.1,569.8 L1632.4,566.2 L1633.7,562.7 L1635.1,559.2 L1636.4,555.6 L1637.7,552.1 L1639.1,548.6 L1640.4,545.0 L1641.8,541.5 L1643.2,538.0 L1644.5,534.4 L1645.9,530.9 L1647.3,527.4 L1648.7,523.9 L1650.1,520.4 L1651.5,516.9 L1652.9,513.4 L1654.3,509.9 L1655.7,506.4 L1657.2,502.9 L1658.6,499.4 L1660.0,495.9 L1661.5,492.4 L1662.9,488.9 L1664.4,485.4 L1665.9,481.9 L1667.4,478.5 L1668.9,475.0 L1670.4,471.5 L1671.9,468.1 L1673.4,464.6 L1674.9,461.2 L1676.5,457.7 L1678.0,454.3 L1679.6,450.8 L1681.1,447.4 L1682.7,443.9 L1684.3,440.5 L1685.9,437.1 L1687.5,433.7 L1689.2,430.3 L1690.8,426.9 L1692.5,423.5 L1694.1,420.1 L1695.8,416.7 L1697.5,413.3 L1699.2,409.9 L1701.0,406.6 L1702.7,403.2 L1704.5,399.9 L1706.2,396.5 L1708.0,393.2 L1709.9,389.8 L1711.7,386.5 L1713.5,383.2 L1715.4,379.9 L1717.3,376.6 L1719.2,373.3 L1721.1,370.0 L1723.1,366.8 L1725.1,363.5 L1727.1,360.3 L1729.1,357.1 L1731.2,353.9 L1733.3,350.8 L1735.4,347.6 L1737.6,344.5 L1739.8,341.5 L1742.1,338.5 L1744.4,335.5 L1746.7,332.6 L1749.1,329.7 L1751.5,326.8 L1754.0,324.0 L1756.5,321.3 L1759.1,318.6 L1761.7,316.0 L1764.4,313.4 L1767.2,310.9 L1770.0,308.5 L1772.9,306.2 L1775.9,303.9 L1778.9,301.7 L1781.9,299.5 L1785.1,297.5 L1788.3,295.5 L1791.6,293.6 L1794.9,291.7 L1798.3,289.9 L1801.7,288.2 L1805.1,286.5 L1808.6,284.8 L1812.1,283.1 L1815.5,281.5 L1819.0,279.9 L1822.5,278.3 L1826.0,276.6 L1829.4,275.0 L1832.8,273.3 L1836.2,271.7 L1839.5,269.9 L1842.8,268.2 L1846.1,266.4"/>
<path class="cv" stroke="#ff00ff" d="M246.6,1511.5 L250.5,1511.4 L254.3,1511.4 L258.1,1511.3 L261.9,1511.2 L265.8,1511.2 L269.6,1511.1 L273.4,1511.0 L277.2,1511.0 L281.1,1510.9 L284.9,1510.8 L288.7,1510.8 L292.5,1510.7 L296.4,1510.6 L300.2,1510.6 L304.0,1510.5 L307.8,1510.4 L311.7,1510.4 L315.5,1510.3 L319.3,1510.3 L323.1,1510.2 L327.0,1510.1 L330.8,1510.1 L334.6,1510.0 L338.4,1509.9 L342.3,1509.9 L346.1,1509.8 L349.9,1509.7 L353.7,1509.7 L357.6,1509.6 L361.4,1509.5 L365.2,1509.5 L369.0,1509.4 L372.9,1509.3 L376.7,1509.2 L380.5,1509.2 L384.3,1509.1 L388.2,1509.0 L392.0,1508.9 L395.8,1508.8 L399.6,1508.8 L403.5,1508.7 L407.3,1508.6 L411.1,1508.5 L414.9,1508.4 L418.8,1508.3 L422.6,1508.2 L426.4,1508.1 L430.2,1508.0 L434.0,1507.9 L437.9,1507.8 L441.7,1507.7 L445.5,1507.6 L449.3,1507.4 L453.2,1507.3 L457.0,1507.2 L460.8,1507.1 L464.6,1506.9 L468.5,1506.8 L472.3,1506.7 L476.1,1506.5 L479.9,1506.4 L483.7,1506.2 L487.6,1506.1 L491.4,1505.9 L495.2,1505.8 L499.0,1505.6 L502.8,1505.4 L506.7,1505.2 L510.5,1505.1 L514.3,1504.9 L518.1,1504.7 L521.9,1504.5 L525.7,1504.3 L529.6,1504.1 L533.4,1503.9 L537.2,1503.7 L541.0,1503.5 L544.8,1503.2 L548.6,1503.0 L552.5,1502.8 L556.3,1502.5 L560.1,1502.3 L563.9,1502.0 L567.7,1501.8 L571.5,1501.5 L575.3,1501.2 L579.1,1501.0 L583.0,1500.7 L586.8,1500.4 L590.6,1500.1 L594.4,1499.8 L598.2,1499.5 L602.0,1499.2 L605.8,1498.9 L609.6,1498.5 L613.4,1498.2 L617.2,1497.9 L621.0,1497.5 L624.9,1497.2 L628.7,1496.8 L632.5,1496.4 L636.3,1496.1 L640.1,1495.7 L643.9,1495.3 L647.7,1494.9 L651.5,1494.5 L655.3,1494.1 L659.1,1493.6 L662.9,1493.2 L666.7,1492.8 L670.5,1492.3 L674.3,1491.9 L678.1,1491.4 L681.9,1490.9 L685.7,1490.4 L689.5,1490.0 L693.3,1489.5 L697.1,1489.0 L700.9,1488.4 L704.6,1487.9 L708.4,1487.4 L712.2,1486.8 L716.0,1486.3 L719.8,1485.7 L723.6,1485.2 L727.4,1484.6 L731.2,1484.0 L734.9,1483.4 L738.7,1482.8 L742.5,1482.1 L746.3,1481.5 L750.1,1480.9 L753.8,1480.2 L757.6,1479.5 L761.4,1478.9 L765.1,1478.2 L768.9,1477.5 L772.7,1476.7 L776.4,1476.0 L780.2,1475.3 L783.9,1474.5 L787.7,1473.8 L791.4,1473.0 L795.2,1472.2 L798.9,1471.4 L802.7,1470.6 L806.4,1469.7 L810.1,1468.9 L813.8,1468.0 L817.6,1467.2 L821.3,1466.3 L825.0,1465.4 L828.7,1464.5 L832.4,1463.5 L836.1,1462.6 L839.8,1461.6 L843.5,1460.6 L847.2,1459.7 L850.9,1458.6 L854.6,1457.6 L858.3,1456.6 L861.9,1455.5 L865.6,1454.5 L869.3,1453.4 L872.9,1452.3 L876.6,1451.2 L880.2,1450.0 L883.9,1448.9 L887.5,1447.7 L891.1,1446.5 L894.8,1445.3 L898.4,1444.1 L902.0,1442.9 L905.6,1441.6 L909.2,1440.3 L912.8,1439.1 L916.4,1437.7 L920.0,1436.4 L923.6,1435.1 L927.1,1433.7 L930.7,1432.3 L934.2,1430.9 L937.8,1429.5 L941.3,1428.0 L944.8,1426.6 L948.4,1425.1 L951.9,1423.6 L955.4,1422.1 L958.9,1420.5 L962.3,1419.0 L965.8,1417.4 L969.3,1415.8 L972.7,1414.1 L976.2,1412.5 L979.6,1410.8 L983.0,1409.1 L986.4,1407.4 L989.8,1405.6 L993.2,1403.9 L996.6,1402.1 L999.9,1400.3 L1003.3,1398.5 L1006.6,1396.6 L1009.9,1394.7 L1013.2,1392.8 L1016.5,1390.9 L1019.8,1388.9 L1023.1,1387.0 L1026.3,1385.0 L1029.6,1382.9 L1032.8,1380.9 L1036.0,1378.8 L1039.2,1376.7 L1042.4,1374.6 L1045.5,1372.4 L1048.7,1370.3 L1051.8,1368.1 L1054.9,1365.8 L1058.0,1363.6 L1061.1,1361.3 L1064.2,1359.0 L1067.2,1356.7 L1070.3,1354.4 L1073.3,1352.0 L1076.3,1349.6 L1079.3,1347.2 L1082.3,1344.8 L1085.2,1342.3 L1088.2,1339.8 L1091.1,1337.3 L1094.0,1334.8 L1096.9,1332.3 L1099.8,1329.7 L1102.6,1327.2 L1105.5,1324.6 L1108.3,1322.0 L1111.1,1319.3 L1113.9,1316.7 L1116.7,1314.0 L1119.4,1311.4 L1122.2,1308.7 L1124.9,1306.0 L1127.6,1303.2 L1130.3,1300.5 L1132.9,1297.7 L1135.6,1294.9 L1138.2,1292.2 L1140.8,1289.4 L1143.4,1286.5 L1146.0,1283.7 L1148.5,1280.9 L1151.1,1278.0 L1153.6,1275.1 L1156.1,1272.2 L1158.6,1269.4 L1161.1,1266.4 L1163.5,1263.5 L1166.0,1260.6 L1168.4,1257.6 L1170.8,1254.7 L1173.2,1251.7 L1175.6,1248.7 L1177.9,1245.7 L1180.3,1242.7 L1182.6,1239.7 L1184.9,1236.6 L1187.2,1233.6 L1189.5,1230.5 L1191.7,1227.5 L1194.0,1224.4 L1196.2,1221.3 L1198.4,1218.2 L1200.6,1215.1 L1202.8,1212.0 L1205.0,1208.8 L1207.2,1205.7 L1209.3,1202.5 L1211.4,1199.4 L1213.6,1196.2 L1215.7,1193.0 L1217.8,1189.8 L1219.8,1186.6 L1221.9,1183.4 L1223.9,1180.2 L1226.0,1176.9 L1228.0,1173.7 L1230.0,1170.5 L1232.0,1167.2 L1234.0,1163.9 L1236.0,1160.7 L1237.9,1157.4 L1239.9,1154.1 L1241.8,1150.8 L1243.7,1147.5 L1245.6,1144.2 L1247.5,1140.8 L1249.4,1137.5 L1251.3,1134.2 L1253.2,1130.8 L1255.0,1127.5 L1256.8,1124.1 L1258.7,1120.8 L1260.5,1117.4 L1262.3,1114.0 L1264.1,1110.6 L1265.9,1107.2 L1267.7,1103.8 L1269.4,1100.4 L1271.2,1097.0 L1272.9,1093.6 L1274.7,1090.2 L1276.4,1086.8 L1278.1,1083.4 L1279.8,1079.9 L1281.5,1076.5 L1283.2,1073.0 L1284.9,1069.6 L1286.5,1066.1 L1288.2,1062.7 L1289.8,1059.2 L1291.5,1055.8 L1293.1,1052.3 L1294.7,1048.8 L1296.4,1045.3 L1298.0,1041.9 L1299.6,1038.4 L1301.2,1034.9 L1302.7,1031.4 L1304.3,1027.9 L1305.9,1024.4 L1307.4,1020.9 L1309.0,1017.4 L1310.5,1013.9 L1312.1,1010.4 L1313.6,1006.9 L1315.1,1003.4 L1316.7,999.9 L1318.2,996.4 L1319.7,992.8 L1321.2,989.3 L1322.7,985.8 L1324.1,982.3 L1325.6,978.7 L1327.1,975.2 L1328.6,971.7 L1330.0,968.1 L1331.5,964.6 L1332.9,961.1 L1334.4,957.5 L1335.8,954.0 L1337.2,950.4 L1338.6,946.9 L1340.0,943.3 L1341.5,939.8 L1342.9,936.2 L1344.3,932.7 L1345.7,929.1 L1347.0,925.6 L1348.4,922.0 L1349.8,918.4 L1351.2,914.9 L1352.5,911.3 L1353.9,907.7 L1355.3,904.2 L1356.6,900.6 L1358.0,897.0 L1359.3,893.4 L1360.6,889.9 L1362.0,886.3 L1363.3,882.7 L1364.6,879.1 L1365.9,875.5 L1367.2,872.0 L1368.5,868.4 L1369.9,864.8 L1371.2,861.2 L1372.4,857.6 L1373.7,854.0 L1375.0,850.4 L1376.3,846.8 L1377.6,843.2 L1378.9,839.6 L1380.1,836.0 L1381.4,832.4 L1382.7,828.8 L1383.9,825.2 L1385.2,821.6 L1386.4,818.0 L1387.7,814.4 L1388.9,810.8 L1390.2,807.2 L1391.4,803.5 L1392.7,799.9 L1393.9,796.3 L1395.1,792.7 L1396.4,789.1 L1397.6,785.5 L1398.8,781.8 L1400.0,778.2 L1401.3,774.6 L1402.5,771.0 L1403.7,767.4 L1404.9,763.7 L1406.1,760.1 L1407.3,756.5 L1408.5,752.9 L1409.7,749.2 L1410.9,745.6 L1412.1,742.0 L1413.3,738.3 L1414.5,734.7 L1415.7,731.1 L1416.9,727.4 L1418.1,723.8 L1419.3,720.2 L1420.5,716.5 L1421.7,712.9 L1422.8,709.3 L1424.0,705.6 L1425.2,702.0 L1426.4,698.4 L1427.6,694.7 L1428.7,691.1 L1429.9,687.5 L1431.1,683.8 L1432.3,680.2 L1433.4,676.5 L1434.6,672.9 L1435.8,669.3 L1437.0,665.6 L1438.1,662.0 L1439.3,658.3 L1440.5,654.7 L1441.7,651.1 L1442.8,647.4 L1444.0,643.8 L1445.2,640.1 L1446.4,636.5 L1447.5,632.9 L1448.7,629.2 L1449.9,625.6 L1451.0,621.9 L1452.2,618.3 L1453.4,614.6 L1454.6,611.0 L1455.7,607.4 L1456.9,603.7 L1458.1,600.1 L1459.3,596.4 L1460.5,592.8 L1461.6,589.2 L1462.8,585.5 L1464.0,581.9 L1465.2,578.2 L1466.4,574.6 L1467.6,571.0 L1468.7,567.3 L1469.9,563.7 L1471.1,560.0 L1472.3,556.4 L1473.5,552.8 L1474.7,549.1 L1475.9,545.5 L1477.1,541.8 L1478.3,538.2 L1479.5,534.6 L1480.7,530.9 L1481.9,527.3 L1483.1,523.7 L1484.3,520.0 L1485.6,516.4 L1486.8,512.8 L1488.0,509.1 L1489.2,505.5 L1490.4,501.9 L1491.7,498.2 L1492.9,494.6 L1494.1,491.0 L1495.4,487.4 L1496.6,483.7 L1497.8,480.1 L1499.1,476.5 L1500.3,472.9 L1501.6,469.2 L1502.9,465.6 L1504.1,462.0 L1505.4,458.4 L1506.6,454.8 L1507.9,451.1 L1509.2,447.5 L1510.5,443.9 L1511.7,440.3 L1513.0,436.7 L1514.3,433.1 L1515.6,429.5 L1516.9,425.9 L1518.2,422.3 L1519.5,418.6 L1520.8,415.0 L1522.1,411.4 L1523.5,407.8 L1524.8,404.2 L1526.1,400.6 L1527.5,397.1 L1528.8,393.5 L1530.2,389.9 L1531.5,386.3 L1532.9,382.7 L1534.3,379.2 L1535.7,375.6 L1537.1,372.0 L1538.5,368.5 L1539.9,364.9 L1541.4,361.4 L1542.8,357.8 L1544.3,354.3 L1545.7,350.7 L1547.2,347.2 L1548.7,343.7 L1550.2,340.2 L1551.7,336.7 L1553.2,333.2 L1554.8,329.7 L1556.3,326.2 L1557.9,322.7 L1559.5,319.2 L1561.1,315.8 L1562.7,312.3 L1564.3,308.9 L1566.0,305.4 L1567.6,302.0 L1569.3,298.6 L1571.0,295.1 L1572.7,291.7 L1574.5,288.3 L1576.2,285.0 L1578.0,281.6 L1579.8,278.2 L1581.6,274.9 L1583.4,271.5 L1585.2,268.2 L1587.1,264.9 L1589.0,261.5 L1590.9,258.2 L1592.8,255.0 L1594.7,251.7 L1596.7,248.4 L1598.7,245.2 L1600.7,241.9 L1602.7,238.7 L1604.8,235.5 L1606.9,232.3 L1609.0,229.1 L1611.1,225.9 L1613.3,222.7 L1615.4,219.6 L1617.6,216.5 L1619.9,213.3 L1622.1,210.2 L1624.4,207.1 L1626.7,204.1 L1629.0,201.0 L1631.4,198.0 L1633.8,195.0 L1636.2,192.0 L1638.7,189.1 L1641.2,186.2 L1643.7,183.3 L1646.3,180.5 L1648.8,177.7 L1651.5,174.9 L1654.1,172.2 L1656.8,169.5 L1659.5,166.8 L1662.3,164.2 L1665.1,161.7 L1668.0,159.2 L1670.9,156.7 L1673.8,154.3 L1676.7,151.9 L1679.7,149.6 L1682.8,147.4 L1685.9,145.2 L1689.0,143.1 L1692.2,141.1 L1695.4,139.1 L1698.7,137.1 L1702.0,135.3 L1705.4,133.5 L1708.8,131.8 L1712.3,130.1 L1715.8,128.6 L1719.4,127.1 L1723.0,125.7 L1726.6,124.4 L1730.3,123.1 L1734.1,122.0 L1737.9,120.9 L1741.8,119.9"/>
<path class="cv" stroke="#bb44aa" clip-path="url(#bands)" d="M246.6,1511.5 L250.5,1511.4 L254.3,1511.4 L258.1,1511.3 L261.9,1511.2 L265.8,1511.2 L269.6,1511.1 L273.4,1511.0 L277.2,1511.0 L281.1,1510.9 L284.9,1510.8 L288.7,1510.8 L292.5,1510.7 L296.4,1510.6 L300.2,1510.6 L304.0,1510.5 L307.8,1510.4 L311.7,1510.4 L315.5,1510.3 L319.3,1510.3 L323.1,1510.2 L327.0,1510.1 L330.8,1510.1 L334.6,1510.0 L338.4,1509.9 L342.3,1509.9 L346.1,1509.8 L349.9,1509.7 L353.7,1509.7 L357.6,1509.6 L361.4,1509.5 L365.2,1509.5 L369.0,1509.4 L372.9,1509.3 L376.7,1509.2 L380.5,1509.2 L384.3,1509.1 L388.2,1509.0 L392.0,1508.9 L395.8,1508.8 L399.6,1508.8 L403.5,1508.7 L407.3,1508.6 L411.1,1508.5 L414.9,1508.4 L418.8,1508.3 L422.6,1508.2 L426.4,1508.1 L430.2,1508.0 L434.0,1507.9 L437.9,1507.8 L441.7,1507.7 L445.5,1507.6 L449.3,1507.4 L453.2,1507.3 L457.0,1507.2 L460.8,1507.1 L464.6,1506.9 L468.5,1506.8 L472.3,1506.7 L476.1,1506.5 L479.9,1506.4 L483.7,1506.2 L487.6,1506.1 L491.4,1505.9 L495.2,1505.8 L499.0,1505.6 L502.8,1505.4 L506.7,1505.2 L510.5,1505.1 L514.3,1504.9 L518.1,1504.7 L521.9,1504.5 L525.7,1504.3 L529.6,1504.1 L533.4,1503.9 L537.2,1503.7 L541.0,1503.5 L544.8,1503.2 L548.6,1503.0 L552.5,1502.8 L556.3,1502.5 L560.1,1502.3 L563.9,1502.0 L567.7,1501.8 L571.5,1501.5 L575.3,1501.2 L579.1,1501.0 L583.0,1500.7 L586.8,1500.4 L590.6,1500.1 L594.4,1499.8 L598.2,1499.5 L602.0,1499.2 L605.8,1498.9 L609.6,1498.5 L613.4,1498.2 L617.2,1497.9 L621.0,1497.5 L624.9,1497.2 L628.7,1496.8 L632.5,1496.4 L636.3,1496.1 L640.1,1495.7 L643.9,1495.3 L647.7,1494.9 L651.5,1494.5 L655.3,1494.1 L659.1,1493.6 L662.9,1493.2 L666.7,1492.8 L670.5,1492.3 L674.3,1491.9 L678.1,1491.4 L681.9,1490.9 L685.7,1490.4 L689.5,1490.0 L693.3,1489.5 L697.1,1489.0 L700.9,1488.4 L704.6,1487.9 L708.4,1487.4 L712.2,1486.8 L716.0,1486.3 L719.8,1485.7 L723.6,1485.2 L727.4,1484.6 L731.2,1484.0 L734.9,1483.4 L738.7,1482.8 L742.5,1482.1 L746.3,1481.5 L750.1,1480.9 L753.8,1480.2 L757.6,1479.5 L761.4,1478.9 L765.1,1478.2 L768.9,1477.5 L772.7,1476.7 L776.4,1476.0 L780.2,1475.3 L783.9,1474.5 L787.7,1473.8 L791.4,1473.0 L795.2,1472.2 L798.9,1471.4 L802.7,1470.6 L806.4,1469.7 L810.1,1468.9 L813.8,1468.0 L817.6,1467.2 L821.3,1466.3 L825.0,1465.4 L828.7,1464.5 L832.4,1463.5 L836.1,1462.6 L839.8,1461.6 L843.5,1460.6 L847.2,1459.7 L850.9,1458.6 L854.6,1457.6 L858.3,1456.6 L861.9,1455.5 L865.6,1454.5 L869.3,1453.4 L872.9,1452.3 L876.6,1451.2 L880.2,1450.0 L883.9,1448.9 L887.5,1447.7 L891.1,1446.5 L894.8,1445.3 L898.4,1444.1 L902.0,1442.9 L905.6,1441.6 L909.2,1440.3 L912.8,1439.1 L916.4,1437.7 L920.0,1436.4 L923.6,1435.1 L927.1,1433.7 L930.7,1432.3 L934.2,1430.9 L937.8,1429.5 L941.3,1428.0 L944.8,1426.6 L948.4,1425.1 L951.9,1423.6 L955.4,1422.1 L958.9,1420.5 L962.3,1419.0 L965.8,1417.4 L969.3,1415.8 L972.7,1414.1 L976.2,1412.5 L979.6,1410.8 L983.0,1409.1 L986.4,1407.4 L989.8,1405.6 L993.2,1403.9 L996.6,1402.1 L999.9,1400.3 L1003.3,1398.5 L1006.6,1396.6 L1009.9,1394.7 L1013.2,1392.8 L1016.5,1390.9 L1019.8,1388.9 L1023.1,1387.0 L1026.3,1385.0 L1029.6,1382.9 L1032.8,1380.9 L1036.0,1378.8 L1039.2,1376.7 L1042.4,1374.6 L1045.5,1372.4 L1048.7,1370.3 L1051.8,1368.1 L1054.9,1365.8 L1058.0,1363.6 L1061.1,1361.3 L1064.2,1359.0 L1067.2,1356.7 L1070.3,1354.4 L1073.3,1352.0 L1076.3,1349.6 L1079.3,1347.2 L1082.3,1344.8 L1085.2,1342.3 L1088.2,1339.8 L1091.1,1337.3 L1094.0,1334.8 L1096.9,1332.3 L1099.8,1329.7 L1102.6,1327.2 L1105.5,1324.6 L1108.3,1322.0 L1111.1,1319.3 L1113.9,1316.7 L1116.7,1314.0 L1119.4,1311.4 L1122.2,1308.7 L1124.9,1306.0 L1127.6,1303.2 L1130.3,1300.5 L1132.9,1297.7 L1135.6,1294.9 L1138.2,1292.2 L1140.8,1289.4 L1143.4,1286.5 L1146.0,1283.7 L1148.5,1280.9 L1151.1,1278.0 L1153.6,1275.1 L1156.1,1272.2 L1158.6,1269.4 L1161.1,1266.4 L1163.5,1263.5 L1166.0,1260.6 L1168.4,1257.6 L1170.8,1254.7 L1173.2,1251.7 L1175.6,1248.7 L1177.9,1245.7 L1180.3,1242.7 L1182.6,1239.7 L1184.9,1236.6 L1187.2,1233.6 L1189.5,1230.5 L1191.7,1227.5 L1194.0,1224.4 L1196.2,1221.3 L1198.4,1218.2 L1200.6,1215.1 L1202.8,1212.0 L1205.0,1208.8 L1207.2,1205.7 L1209.3,1202.5 L1211.4,1199.4 L1213.6,1196.2 L1215.7,1193.0 L1217.8,1189.8 L1219.8,1186.6 L1221.9,1183.4 L1223.9,1180.2 L1226.0,1176.9 L1228.0,1173.7 L1230.0,1170.5 L1232.0,1167.2 L1234.0,1163.9 L1236.0,1160.7 L1237.9,1157.4 L1239.9,1154.1 L1241.8,1150.8 L1243.7,1147.5 L1245.6,1144.2 L1247.5,1140.8 L1249.4,1137.5 L1251.3,1134.2 L1253.2,1130.8 L1255.0,1127.5 L1256.8,1124.1 L1258.7,1120.8 L1260.5,1117.4 L1262.3,1114.0 L1264.1,1110.6 L1265.9,1107.2 L1267.7,1103.8 L1269.4,1100.4 L1271.2,1097.0 L1272.9,1093.6 L1274.7,1090.2 L1276.4,1086.8 L1278.1,1083.4 L1279.8,1079.9 L1281.5,1076.5 L1283.2,1073.0 L1284.9,1069.6 L1286.5,1066.1 L1288.2,1062.7 L1289.8,1059.2 L1291.5,1055.8 L1293.1,1052.3 L1294.7,1048.8 L1296.4,1045.3 L1298.0,1041.9 L1299.6,1038.4 L1301.2,1034.9 L1302.7,1031.4 L1304.3,1027.9 L1305.9,1024.4 L1307.4,1020.9 L1309.0,1017.4 L1310.5,1013.9 L1312.1,1010.4 L1313.6,1006.9 L1315.1,1003.4 L1316.7,999.9 L1318.2,996.4 L1319.7,992.8 L1321.2,989.3 L1322.7,985.8 L1324.1,982.3 L1325.6,978.7 L1327.1,975.2 L1328.6,971.7 L1330.0,968.1 L1331.5,964.6 L1332.9,961.1 L1334.4,957.5 L1335.8,954.0 L1337.2,950.4 L1338.6,946.9 L1340.0,943.3 L1341.5,939.8 L1342.9,936.2 L1344.3,932.7 L1345.7,929.1 L1347.0,925.6 L1348.4,922.0 L1349.8,918.4 L1351.2,914.9 L1352.5,911.3 L1353.9,907.7 L1355.3,904.2 L1356.6,900.6 L1358.0,897.0 L1359.3,893.4 L1360.6,889.9 L1362.0,886.3 L1363.3,882.7 L1364.6,879.1 L1365.9,875.5 L1367.2,872.0 L1368.5,868.4 L1369.9,864.8 L1371.2,861.2 L1372.4,857.6 L1373.7,854.0 L1375.0,850.4 L1376.3,846.8 L1377.6,843.2 L1378.9,839.6 L1380.1,836.0 L1381.4,832.4 L1382.7,828.8 L1383.9,825.2 L1385.2,821.6 L1386.4,818.0 L1387.7,814.4 L1388.9,810.8 L1390.2,807.2 L1391.4,803.5 L1392.7,799.9 L1393.9,796.3 L1395.1,792.7 L1396.4,789.1 L1397.6,785.5 L1398.8,781.8 L1400.0,778.2 L1401.3,774.6 L1402.5,771.0 L1403.7,767.4 L1404.9,763.7 L1406.1,760.1 L1407.3,756.5 L1408.5,752.9 L1409.7,749.2 L1410.9,745.6 L1412.1,742.0 L1413.3,738.3 L1414.5,734.7 L1415.7,731.1 L1416.9,727.4 L1418.1,723.8 L1419.3,720.2 L1420.5,716.5 L1421.7,712.9 L1422.8,709.3 L1424.0,705.6 L1425.2,702.0 L1426.4,698.4 L1427.6,694.7 L1428.7,691.1 L1429.9,687.5 L1431.1,683.8 L1432.3,680.2 L1433.4,676.5 L1434.6,672.9 L1435.8,669.3 L1437.0,665.6 L1438.1,662.0 L1439.3,658.3 L1440.5,654.7 L1441.7,651.1 L1442.8,647.4 L1444.0,643.8 L1445.2,640.1 L1446.4,636.5 L1447.5,632.9 L1448.7,629.2 L1449.9,625.6 L1451.0,621.9 L1452.2,618.3 L1453.4,614.6 L1454.6,611.0 L1455.7,607.4 L1456.9,603.7 L1458.1,600.1 L1459.3,596.4 L1460.5,592.8 L1461.6,589.2 L1462.8,585.5 L1464.0,581.9 L1465.2,578.2 L1466.4,574.6 L1467.6,571.0 L1468.7,567.3 L1469.9,563.7 L1471.1,560.0 L1472.3,556.4 L1473.5,552.8 L1474.7,549.1 L1475.9,545.5 L1477.1,541.8 L1478.3,538.2 L1479.5,534.6 L1480.7,530.9 L1481.9,527.3 L1483.1,523.7 L1484.3,520.0 L1485.6,516.4 L1486.8,512.8 L1488.0,509.1 L1489.2,505.5 L1490.4,501.9 L1491.7,498.2 L1492.9,494.6 L1494.1,491.0 L1495.4,487.4 L1496.6,483.7 L1497.8,480.1 L1499.1,476.5 L1500.3,472.9 L1501.6,469.2 L1502.9,465.6 L1504.1,462.0 L1505.4,458.4 L1506.6,454.8 L1507.9,451.1 L1509.2,447.5 L1510.5,443.9 L1511.7,440.3 L1513.0,436.7 L1514.3,433.1 L1515.6,429.5 L1516.9,425.9 L1518.2,422.3 L1519.5,418.6 L1520.8,415.0 L1522.1,411.4 L1523.5,407.8 L1524.8,404.2 L1526.1,400.6 L1527.5,397.1 L1528.8,393.5 L1530.2,389.9 L1531.5,386.3 L1532.9,382.7 L1534.3,379.2 L1535.7,375.6 L1537.1,372.0 L1538.5,368.5 L1539.9,364.9 L1541.4,361.4 L1542.8,357.8 L1544.3,354.3 L1545.7,350.7 L1547.2,347.2 L1548.7,343.7 L1550.2,340.2 L1551.7,336.7 L1553.2,333.2 L1554.8,329.7 L1556.3,326.2 L1557.9,322.7 L1559.5,319.2 L1561.1,315.8 L1562.7,312.3 L1564.3,308.9 L1566.0,305.4 L1567.6,302.0 L1569.3,298.6 L1571.0,295.1 L1572.7,291.7 L1574.5,288.3 L1576.2,285.0 L1578.0,281.6 L1579.8,278.2 L1581.6,274.9 L1583.4,271.5 L1585.2,268.2 L1587.1,264.9 L1589.0,261.5 L1590.9,258.2 L1592.8,255.0 L1594.7,251.7 L1596.7,248.4 L1598.7,245.2 L1600.7,241.9 L1602.7,238.7 L1604.8,235.5 L1606.9,232.3 L1609.0,229.1 L1611.1,225.9 L1613.3,222.7 L1615.4,219.6 L1617.6,216.5 L1619.9,213.3 L1622.1,210.2 L1624.4,207.1 L1626.7,204.1 L1629.0,201.0 L1631.4,198.0 L1633.8,195.0 L1636.2,192.0 L1638.7,189.1 L1641.2,186.2 L1643.7,183.3 L1646.3,180.5 L1648.8,177.7 L1651.5,174.9 L1654.1,172.2 L1656.8,169.5 L1659.5,166.8 L1662.3,164.2 L1665.1,161.7 L1668.0,159.2 L1670.9,156.7 L1673.8,154.3 L1676.7,151.9 L1679.7,149.6 L1682.8,147.4 L1685.9,145.2 L1689.0,143.1 L1692.2,141.1 L1695.4,139.1 L1698.7,137.1 L1702.0,135.3 L1705.4,133.5 L1708.8,131.8 L1712.3,130.1 L1715.8,128.6 L1719.4,127.1 L1723.0,125.7 L1726.6,124.4 L1730.3,123.1 L1734.1,122.0 L1737.9,120.9 L1741.8,119.9"/>
<path class="cv" stroke="#008000" d="M246.6,1511.0 L250.5,1510.9 L254.4,1510.8 L258.2,1510.6 L262.1,1510.5 L266.0,1510.4 L269.8,1510.3 L273.7,1510.1 L277.6,1510.0 L281.4,1509.9 L285.3,1509.8 L289.2,1509.7 L293.1,1509.6 L296.9,1509.5 L300.8,1509.4 L304.7,1509.3 L308.5,1509.2 L312.4,1509.1 L316.3,1509.0 L320.1,1508.9 L324.0,1508.8 L327.9,1508.7 L331.7,1508.6 L335.6,1508.5 L339.5,1508.4 L343.4,1508.3 L347.2,1508.2 L351.1,1508.0 L355.0,1507.9 L358.8,1507.8 L362.7,1507.7 L366.6,1507.6 L370.4,1507.5 L374.3,1507.4 L378.2,1507.3 L382.0,1507.2 L385.9,1507.0 L389.8,1506.9 L393.6,1506.8 L397.5,1506.7 L401.4,1506.5 L405.2,1506.4 L409.1,1506.3 L413.0,1506.1 L416.8,1506.0 L420.7,1505.8 L424.6,1505.7 L428.4,1505.5 L432.3,1505.4 L436.2,1505.2 L440.0,1505.0 L443.9,1504.9 L447.7,1504.7 L451.6,1504.5 L455.5,1504.3 L459.3,1504.1 L463.2,1503.9 L467.0,1503.7 L470.9,1503.5 L474.7,1503.3 L478.6,1503.1 L482.5,1502.8 L486.3,1502.6 L490.2,1502.3 L494.0,1502.1 L497.9,1501.8 L501.7,1501.6 L505.6,1501.3 L509.4,1501.0 L513.3,1500.7 L517.1,1500.5 L521.0,1500.1 L524.8,1499.8 L528.7,1499.5 L532.5,1499.2 L536.3,1498.9 L540.2,1498.5 L544.0,1498.2 L547.9,1497.8 L551.7,1497.4 L555.5,1497.1 L559.4,1496.7 L563.2,1496.3 L567.1,1495.9 L570.9,1495.5 L574.7,1495.0 L578.6,1494.6 L582.4,1494.1 L586.2,1493.7 L590.0,1493.2 L593.9,1492.7 L597.7,1492.2 L601.5,1491.7 L605.3,1491.2 L609.2,1490.7 L613.0,1490.2 L616.8,1489.6 L620.6,1489.1 L624.4,1488.5 L628.2,1487.9 L632.1,1487.3 L635.9,1486.7 L639.7,1486.1 L643.5,1485.5 L647.3,1484.8 L651.1,1484.1 L654.9,1483.5 L658.7,1482.8 L662.5,1482.1 L666.3,1481.4 L670.1,1480.6 L673.9,1479.9 L677.7,1479.1 L681.5,1478.4 L685.3,1477.6 L689.1,1476.8 L692.9,1476.0 L696.6,1475.1 L700.4,1474.3 L704.2,1473.4 L708.0,1472.5 L711.8,1471.7 L715.5,1470.7 L719.3,1469.8 L723.1,1468.9 L726.9,1467.9 L730.6,1466.9 L734.4,1466.0 L738.2,1465.0 L741.9,1463.9 L745.7,1462.9 L749.4,1461.8 L753.2,1460.7 L756.9,1459.7 L760.6,1458.5 L764.4,1457.4 L768.1,1456.3 L771.8,1455.1 L775.5,1453.9 L779.2,1452.7 L782.9,1451.5 L786.6,1450.2 L790.3,1449.0 L794.0,1447.7 L797.6,1446.4 L801.3,1445.0 L804.9,1443.7 L808.6,1442.3 L812.2,1440.9 L815.8,1439.5 L819.4,1438.1 L823.0,1436.6 L826.6,1435.2 L830.2,1433.7 L833.8,1432.2 L837.3,1430.6 L840.9,1429.0 L844.4,1427.5 L847.9,1425.9 L851.4,1424.2 L854.9,1422.6 L858.4,1420.9 L861.9,1419.2 L865.3,1417.5 L868.7,1415.7 L872.2,1413.9 L875.6,1412.1 L879.0,1410.3 L882.3,1408.5 L885.7,1406.6 L889.0,1404.7 L892.4,1402.8 L895.7,1400.8 L899.0,1398.9 L902.2,1396.9 L905.5,1394.8 L908.7,1392.8 L912.0,1390.7 L915.2,1388.6 L918.3,1386.5 L921.5,1384.3 L924.6,1382.1 L927.8,1379.9 L930.9,1377.7 L934.0,1375.4 L937.0,1373.1 L940.1,1370.8 L943.1,1368.5 L946.1,1366.1 L949.1,1363.7 L952.1,1361.3 L955.0,1358.8 L958.0,1356.4 L960.9,1353.9 L963.8,1351.4 L966.7,1348.9 L969.6,1346.3 L972.4,1343.7 L975.2,1341.1 L978.0,1338.5 L980.8,1335.9 L983.6,1333.2 L986.4,1330.5 L989.1,1327.8 L991.8,1325.1 L994.5,1322.4 L997.2,1319.6 L999.9,1316.8 L1002.6,1314.0 L1005.2,1311.2 L1007.8,1308.4 L1010.4,1305.5 L1013.0,1302.7 L1015.6,1299.8 L1018.1,1296.9 L1020.7,1293.9 L1023.2,1291.0 L1025.7,1288.1 L1028.2,1285.1 L1030.7,1282.1 L1033.1,1279.1 L1035.6,1276.1 L1038.0,1273.0 L1040.4,1270.0 L1042.8,1266.9 L1045.2,1263.9 L1047.5,1260.8 L1049.9,1257.7 L1052.2,1254.6 L1054.5,1251.4 L1056.8,1248.3 L1059.1,1245.1 L1061.4,1242.0 L1063.6,1238.8 L1065.9,1235.6 L1068.1,1232.4 L1070.3,1229.2 L1072.5,1226.0 L1074.7,1222.8 L1076.8,1219.5 L1079.0,1216.3 L1081.1,1213.0 L1083.2,1209.8 L1085.3,1206.5 L1087.4,1203.2 L1089.5,1199.9 L1091.6,1196.6 L1093.6,1193.3 L1095.7,1190.0 L1097.7,1186.7 L1099.7,1183.4 L1101.7,1180.0 L1103.7,1176.7 L1105.6,1173.3 L1107.6,1170.0 L1109.5,1166.6 L1111.5,1163.3 L1113.4,1159.9 L1115.3,1156.5 L1117.2,1153.1 L1119.1,1149.8 L1120.9,1146.4 L1122.8,1143.0 L1124.6,1139.6 L1126.4,1136.2 L1128.3,1132.8 L1130.1,1129.3 L1131.9,1125.9 L1133.7,1122.5 L1135.4,1119.0 L1137.2,1115.6 L1138.9,1112.2 L1140.7,1108.7 L1142.4,1105.3 L1144.1,1101.8 L1145.8,1098.3 L1147.5,1094.9 L1149.2,1091.4 L1150.9,1087.9 L1152.6,1084.4 L1154.2,1081.0 L1155.9,1077.5 L1157.5,1074.0 L1159.2,1070.5 L1160.8,1067.0 L1162.4,1063.5 L1164.0,1060.0 L1165.6,1056.5 L1167.2,1052.9 L1168.8,1049.4 L1170.3,1045.9 L1171.9,1042.4 L1173.5,1038.8 L1175.0,1035.3 L1176.6,1031.8 L1178.1,1028.2 L1179.6,1024.7 L1181.1,1021.1 L1182.7,1017.6 L1184.2,1014.0 L1185.7,1010.5 L1187.2,1006.9 L1188.6,1003.3 L1190.1,999.8 L1191.6,996.2 L1193.1,992.6 L1194.5,989.0 L1196.0,985.5 L1197.4,981.9 L1198.9,978.3 L1200.3,974.7 L1201.8,971.1 L1203.2,967.5 L1204.6,964.0 L1206.1,960.4 L1207.5,956.8 L1208.9,953.2 L1210.3,949.6 L1211.7,946.0 L1213.1,942.4 L1214.5,938.8 L1215.9,935.2 L1217.3,931.5 L1218.7,927.9 L1220.0,924.3 L1221.4,920.7 L1222.8,917.1 L1224.2,913.5 L1225.5,909.9 L1226.9,906.2 L1228.3,902.6 L1229.6,899.0 L1231.0,895.4 L1232.4,891.8 L1233.7,888.1 L1235.1,884.5 L1236.4,880.9 L1237.7,877.2 L1239.1,873.6 L1240.4,870.0 L1241.8,866.4 L1243.1,862.7 L1244.4,859.1 L1245.8,855.5 L1247.1,851.8 L1248.4,848.2 L1249.7,844.5 L1251.1,840.9 L1252.4,837.3 L1253.7,833.6 L1255.0,830.0 L1256.3,826.3 L1257.6,822.7 L1259.0,819.1 L1260.3,815.4 L1261.6,811.8 L1262.9,808.1 L1264.2,804.5 L1265.5,800.8 L1266.8,797.2 L1268.1,793.5 L1269.4,789.9 L1270.7,786.2 L1272.0,782.6 L1273.3,778.9 L1274.6,775.3 L1275.9,771.6 L1277.2,768.0 L1278.5,764.3 L1279.7,760.7 L1281.0,757.0 L1282.3,753.4 L1283.6,749.7 L1284.9,746.1 L1286.2,742.4 L1287.5,738.8 L1288.8,735.1 L1290.1,731.5 L1291.4,727.8 L1292.6,724.2 L1293.9,720.5 L1295.2,716.9 L1296.5,713.2 L1297.8,709.6 L1299.1,705.9 L1300.4,702.3 L1301.7,698.6 L1302.9,695.0 L1304.2,691.3 L1305.5,687.7 L1306.8,684.0 L1308.1,680.4 L1309.4,676.7 L1310.7,673.1 L1312.0,669.4 L1313.3,665.8 L1314.6,662.1 L1315.9,658.5 L1317.2,654.8 L1318.5,651.2 L1319.8,647.5 L1321.1,643.9 L1322.4,640.3 L1323.7,636.6 L1325.0,633.0 L1326.3,629.3 L1327.6,625.7 L1328.9,622.1 L1330.2,618.4 L1331.5,614.8 L1332.8,611.2 L1334.2,607.5 L1335.5,603.9 L1336.8,600.3 L1338.1,596.6 L1339.4,593.0 L1340.8,589.4 L1342.1,585.7 L1343.4,582.1 L1344.8,578.5 L1346.1,574.9 L1347.4,571.2 L1348.8,567.6 L1350.1,564.0 L1351.5,560.4 L1352.8,556.8 L1354.2,553.1 L1355.5,549.5 L1356.9,545.9 L1358.2,542.3 L1359.6,538.7 L1361.0,535.1 L1362.3,531.5 L1363.7,527.9 L1365.1,524.3 L1366.5,520.7 L1367.8,517.1 L1369.2,513.5 L1370.6,509.9 L1372.0,506.3 L1373.4,502.7 L1374.8,499.1 L1376.2,495.5 L1377.6,491.9 L1379.1,488.3 L1380.5,484.8 L1381.9,481.2 L1383.3,477.6 L1384.8,474.0 L1386.2,470.5 L1387.7,466.9 L1389.1,463.3 L1390.6,459.8 L1392.1,456.2 L1393.6,452.6 L1395.0,449.1 L1396.5,445.5 L1398.0,442.0 L1399.5,438.4 L1401.1,434.9 L1402.6,431.3 L1404.1,427.8 L1405.6,424.3 L1407.2,420.7 L1408.7,417.2 L1410.3,413.7 L1411.9,410.2 L1413.5,406.6 L1415.1,403.1 L1416.7,399.6 L1418.3,396.1 L1419.9,392.6 L1421.5,389.1 L1423.1,385.6 L1424.8,382.1 L1426.5,378.6 L1428.1,375.1 L1429.8,371.7 L1431.5,368.2 L1433.2,364.7 L1434.9,361.2 L1436.6,357.8 L1438.4,354.3 L1440.1,350.9 L1441.9,347.4 L1443.6,344.0 L1445.4,340.5 L1447.2,337.1 L1449.0,333.6 L1450.8,330.2 L1452.6,326.8 L1454.5,323.4 L1456.3,319.9 L1458.2,316.5 L1460.1,313.1 L1462.0,309.7 L1463.9,306.3 L1465.8,302.9 L1467.8,299.6 L1469.7,296.2 L1471.7,292.8 L1473.6,289.5 L1475.6,286.1 L1477.6,282.8 L1479.7,279.4 L1481.7,276.1 L1483.7,272.8 L1485.8,269.5 L1487.9,266.2 L1490.0,262.9 L1492.1,259.6 L1494.2,256.3 L1496.3,253.1 L1498.5,249.8 L1500.6,246.6 L1502.8,243.4 L1505.0,240.2 L1507.2,237.0 L1509.5,233.8 L1511.7,230.6 L1514.0,227.5 L1516.3,224.3 L1518.5,221.2 L1520.9,218.1 L1523.2,215.0 L1525.5,211.9 L1527.9,208.8 L1530.3,205.8 L1532.7,202.7 L1535.1,199.7 L1537.5,196.7 L1539.9,193.7 L1542.4,190.7 L1544.9,187.8 L1547.4,184.9 L1549.9,181.9 L1552.4,179.0 L1555.0,176.2 L1557.6,173.3 L1560.1,170.4 L1562.8,167.6 L1565.4,164.8 L1568.0,162.0 L1570.7,159.3 L1573.4,156.5 L1576.1,153.8 L1578.8,151.1 L1581.5,148.4 L1584.3,145.8 L1587.1,143.1 L1589.8,140.5 L1592.7,137.9 L1595.5,135.3 L1598.4,132.8 L1601.2,130.3 L1604.1,127.8 L1607.0,125.3 L1610.0,122.9 L1612.9,120.4 L1615.9,118.0 L1618.9,115.7 L1621.9,113.3 L1625.0,111.0 L1628.0,108.7 L1631.1,106.4 L1634.2,104.2 L1637.3,102.0 L1640.5,99.8 L1643.6,97.6 L1646.8,95.5 L1650.0,93.4 L1653.3,91.3 L1656.5,89.3 L1659.8,87.3 L1663.1,85.3 L1666.4,83.3 L1669.7,81.4 L1673.1,79.5 L1676.5,77.7 L1679.9,75.8 L1683.3,74.0 L1686.8,72.3 L1690.3,70.5 L1693.8,68.8 L1697.3,67.2 L1700.8,65.5 L1704.4,63.9 L1708.0,62.4 L1711.6,60.8 L1715.2,59.3 L1718.9,57.8 L1722.5,56.4 L1726.2,55.0 L1729.9,53.6 L1733.6,52.3 L1737.4,51.0 L1741.1,49.7 L1744.9,48.5 L1748.7,47.3 L1752.5,46.1"/>
<path class="cv" stroke="#009b55" clip-path="url(#bands)" d="M246.6,1511.0 L250.5,1510.9 L254.4,1510.8 L258.2,1510.6 L262.1,1510.5 L266.0,1510.4 L269.8,1510.3 L273.7,1510.1 L277.6,1510.0 L281.4,1509.9 L285.3,1509.8 L289.2,1509.7 L293.1,1509.6 L296.9,1509.5 L300.8,1509.4 L304.7,1509.3 L308.5,1509.2 L312.4,1509.1 L316.3,1509.0 L320.1,1508.9 L324.0,1508.8 L327.9,1508.7 L331.7,1508.6 L335.6,1508.5 L339.5,1508.4 L343.4,1508.3 L347.2,1508.2 L351.1,1508.0 L355.0,1507.9 L358.8,1507.8 L362.7,1507.7 L366.6,1507.6 L370.4,1507.5 L374.3,1507.4 L378.2,1507.3 L382.0,1507.2 L385.9,1507.0 L389.8,1506.9 L393.6,1506.8 L397.5,1506.7 L401.4,1506.5 L405.2,1506.4 L409.1,1506.3 L413.0,1506.1 L416.8,1506.0 L420.7,1505.8 L424.6,1505.7 L428.4,1505.5 L432.3,1505.4 L436.2,1505.2 L440.0,1505.0 L443.9,1504.9 L447.7,1504.7 L451.6,1504.5 L455.5,1504.3 L459.3,1504.1 L463.2,1503.9 L467.0,1503.7 L470.9,1503.5 L474.7,1503.3 L478.6,1503.1 L482.5,1502.8 L486.3,1502.6 L490.2,1502.3 L494.0,1502.1 L497.9,1501.8 L501.7,1501.6 L505.6,1501.3 L509.4,1501.0 L513.3,1500.7 L517.1,1500.5 L521.0,1500.1 L524.8,1499.8 L528.7,1499.5 L532.5,1499.2 L536.3,1498.9 L540.2,1498.5 L544.0,1498.2 L547.9,1497.8 L551.7,1497.4 L555.5,1497.1 L559.4,1496.7 L563.2,1496.3 L567.1,1495.9 L570.9,1495.5 L574.7,1495.0 L578.6,1494.6 L582.4,1494.1 L586.2,1493.7 L590.0,1493.2 L593.9,1492.7 L597.7,1492.2 L601.5,1491.7 L605.3,1491.2 L609.2,1490.7 L613.0,1490.2 L616.8,1489.6 L620.6,1489.1 L624.4,1488.5 L628.2,1487.9 L632.1,1487.3 L635.9,1486.7 L639.7,1486.1 L643.5,1485.5 L647.3,1484.8 L651.1,1484.1 L654.9,1483.5 L658.7,1482.8 L662.5,1482.1 L666.3,1481.4 L670.1,1480.6 L673.9,1479.9 L677.7,1479.1 L681.5,1478.4 L685.3,1477.6 L689.1,1476.8 L692.9,1476.0 L696.6,1475.1 L700.4,1474.3 L704.2,1473.4 L708.0,1472.5 L711.8,1471.7 L715.5,1470.7 L719.3,1469.8 L723.1,1468.9 L726.9,1467.9 L730.6,1466.9 L734.4,1466.0 L738.2,1465.0 L741.9,1463.9 L745.7,1462.9 L749.4,1461.8 L753.2,1460.7 L756.9,1459.7 L760.6,1458.5 L764.4,1457.4 L768.1,1456.3 L771.8,1455.1 L775.5,1453.9 L779.2,1452.7 L782.9,1451.5 L786.6,1450.2 L790.3,1449.0 L794.0,1447.7 L797.6,1446.4 L801.3,1445.0 L804.9,1443.7 L808.6,1442.3 L812.2,1440.9 L815.8,1439.5 L819.4,1438.1 L823.0,1436.6 L826.6,1435.2 L830.2,1433.7 L833.8,1432.2 L837.3,1430.6 L840.9,1429.0 L844.4,1427.5 L847.9,1425.9 L851.4,1424.2 L854.9,1422.6 L858.4,1420.9 L861.9,1419.2 L865.3,1417.5 L868.7,1415.7 L872.2,1413.9 L875.6,1412.1 L879.0,1410.3 L882.3,1408.5 L885.7,1406.6 L889.0,1404.7 L892.4,1402.8 L895.7,1400.8 L899.0,1398.9 L902.2,1396.9 L905.5,1394.8 L908.7,1392.8 L912.0,1390.7 L915.2,1388.6 L918.3,1386.5 L921.5,1384.3 L924.6,1382.1 L927.8,1379.9 L930.9,1377.7 L934.0,1375.4 L937.0,1373.1 L940.1,1370.8 L943.1,1368.5 L946.1,1366.1 L949.1,1363.7 L952.1,1361.3 L955.0,1358.8 L958.0,1356.4 L960.9,1353.9 L963.8,1351.4 L966.7,1348.9 L969.6,1346.3 L972.4,1343.7 L975.2,1341.1 L978.0,1338.5 L980.8,1335.9 L983.6,1333.2 L986.4,1330.5 L989.1,1327.8 L991.8,1325.1 L994.5,1322.4 L997.2,1319.6 L999.9,1316.8 L1002.6,1314.0 L1005.2,1311.2 L1007.8,1308.4 L1010.4,1305.5 L1013.0,1302.7 L1015.6,1299.8 L1018.1,1296.9 L1020.7,1293.9 L1023.2,1291.0 L1025.7,1288.1 L1028.2,1285.1 L1030.7,1282.1 L1033.1,1279.1 L1035.6,1276.1 L1038.0,1273.0 L1040.4,1270.0 L1042.8,1266.9 L1045.2,1263.9 L1047.5,1260.8 L1049.9,1257.7 L1052.2,1254.6 L1054.5,1251.4 L1056.8,1248.3 L1059.1,1245.1 L1061.4,1242.0 L1063.6,1238.8 L1065.9,1235.6 L1068.1,1232.4 L1070.3,1229.2 L1072.5,1226.0 L1074.7,1222.8 L1076.8,1219.5 L1079.0,1216.3 L1081.1,1213.0 L1083.2,1209.8 L1085.3,1206.5 L1087.4,1203.2 L1089.5,1199.9 L1091.6,1196.6 L1093.6,1193.3 L1095.7,1190.0 L1097.7,1186.7 L1099.7,1183.4 L1101.7,1180.0 L1103.7,1176.7 L1105.6,1173.3 L1107.6,1170.0 L1109.5,1166.6 L1111.5,1163.3 L1113.4,1159.9 L1115.3,1156.5 L1117.2,1153.1 L1119.1,1149.8 L1120.9,1146.4 L1122.8,1143.0 L1124.6,1139.6 L1126.4,1136.2 L1128.3,1132.8 L1130.1,1129.3 L1131.9,1125.9 L1133.7,1122.5 L1135.4,1119.0 L1137.2,1115.6 L1138.9,1112.2 L1140.7,1108.7 L1142.4,1105.3 L1144.1,1101.8 L1145.8,1098.3 L1147.5,1094.9 L1149.2,1091.4 L1150.9,1087.9 L1152.6,1084.4 L1154.2,1081.0 L1155.9,1077.5 L1157.5,1074.0 L1159.2,1070.5 L1160.8,1067.0 L1162.4,1063.5 L1164.0,1060.0 L1165.6,1056.5 L1167.2,1052.9 L1168.8,1049.4 L1170.3,1045.9 L1171.9,1042.4 L1173.5,1038.8 L1175.0,1035.3 L1176.6,1031.8 L1178.1,1028.2 L1179.6,1024.7 L1181.1,1021.1 L1182.7,1017.6 L1184.2,1014.0 L1185.7,1010.5 L1187.2,1006.9 L1188.6,1003.3 L1190.1,999.8 L1191.6,996.2 L1193.1,992.6 L1194.5,989.0 L1196.0,985.5 L1197.4,981.9 L1198.9,978.3 L1200.3,974.7 L1201.8,971.1 L1203.2,967.5 L1204.6,964.0 L1206.1,960.4 L1207.5,956.8 L1208.9,953.2 L1210.3,949.6 L1211.7,946.0 L1213.1,942.4 L1214.5,938.8 L1215.9,935.2 L1217.3,931.5 L1218.7,927.9 L1220.0,924.3 L1221.4,920.7 L1222.8,917.1 L1224.2,913.5 L1225.5,909.9 L1226.9,906.2 L1228.3,902.6 L1229.6,899.0 L1231.0,895.4 L1232.4,891.8 L1233.7,888.1 L1235.1,884.5 L1236.4,880.9 L1237.7,877.2 L1239.1,873.6 L1240.4,870.0 L1241.8,866.4 L1243.1,862.7 L1244.4,859.1 L1245.8,855.5 L1247.1,851.8 L1248.4,848.2 L1249.7,844.5 L1251.1,840.9 L1252.4,837.3 L1253.7,833.6 L1255.0,830.0 L1256.3,826.3 L1257.6,822.7 L1259.0,819.1 L1260.3,815.4 L1261.6,811.8 L1262.9,808.1 L1264.2,804.5 L1265.5,800.8 L1266.8,797.2 L1268.1,793.5 L1269.4,789.9 L1270.7,786.2 L1272.0,782.6 L1273.3,778.9 L1274.6,775.3 L1275.9,771.6 L1277.2,768.0 L1278.5,764.3 L1279.7,760.7 L1281.0,757.0 L1282.3,753.4 L1283.6,749.7 L1284.9,746.1 L1286.2,742.4 L1287.5,738.8 L1288.8,735.1 L1290.1,731.5 L1291.4,727.8 L1292.6,724.2 L1293.9,720.5 L1295.2,716.9 L1296.5,713.2 L1297.8,709.6 L1299.1,705.9 L1300.4,702.3 L1301.7,698.6 L1302.9,695.0 L1304.2,691.3 L1305.5,687.7 L1306.8,684.0 L1308.1,680.4 L1309.4,676.7 L1310.7,673.1 L1312.0,669.4 L1313.3,665.8 L1314.6,662.1 L1315.9,658.5 L1317.2,654.8 L1318.5,651.2 L1319.8,647.5 L1321.1,643.9 L1322.4,640.3 L1323.7,636.6 L1325.0,633.0 L1326.3,629.3 L1327.6,625.7 L1328.9,622.1 L1330.2,618.4 L1331.5,614.8 L1332.8,611.2 L1334.2,607.5 L1335.5,603.9 L1336.8,600.3 L1338.1,596.6 L1339.4,593.0 L1340.8,589.4 L1342.1,585.7 L1343.4,582.1 L1344.8,578.5 L1346.1,574.9 L1347.4,571.2 L1348.8,567.6 L1350.1,564.0 L1351.5,560.4 L1352.8,556.8 L1354.2,553.1 L1355.5,549.5 L1356.9,545.9 L1358.2,542.3 L1359.6,538.7 L1361.0,535.1 L1362.3,531.5 L1363.7,527.9 L1365.1,524.3 L1366.5,520.7 L1367.8,517.1 L1369.2,513.5 L1370.6,509.9 L1372.0,506.3 L1373.4,502.7 L1374.8,499.1 L1376.2,495.5 L1377.6,491.9 L1379.1,488.3 L1380.5,484.8 L1381.9,481.2 L1383.3,477.6 L1384.8,474.0 L1386.2,470.5 L1387.7,466.9 L1389.1,463.3 L1390.6,459.8 L1392.1,456.2 L1393.6,452.6 L1395.0,449.1 L1396.5,445.5 L1398.0,442.0 L1399.5,438.4 L1401.1,434.9 L1402.6,431.3 L1404.1,427.8 L1405.6,424.3 L1407.2,420.7 L1408.7,417.2 L1410.3,413.7 L1411.9,410.2 L1413.5,406.6 L1415.1,403.1 L1416.7,399.6 L1418.3,396.1 L1419.9,392.6 L1421.5,389.1 L1423.1,385.6 L1424.8,382.1 L1426.5,378.6 L1428.1,375.1 L1429.8,371.7 L1431.5,368.2 L1433.2,364.7 L1434.9,361.2 L1436.6,357.8 L1438.4,354.3 L1440.1,350.9 L1441.9,347.4 L1443.6,344.0 L1445.4,340.5 L1447.2,337.1 L1449.0,333.6 L1450.8,330.2 L1452.6,326.8 L1454.5,323.4 L1456.3,319.9 L1458.2,316.5 L1460.1,313.1 L1462.0,309.7 L1463.9,306.3 L1465.8,302.9 L1467.8,299.6 L1469.7,296.2 L1471.7,292.8 L1473.6,289.5 L1475.6,286.1 L1477.6,282.8 L1479.7,279.4 L1481.7,276.1 L1483.7,272.8 L1485.8,269.5 L1487.9,266.2 L1490.0,262.9 L1492.1,259.6 L1494.2,256.3 L1496.3,253.1 L1498.5,249.8 L1500.6,246.6 L1502.8,243.4 L1505.0,240.2 L1507.2,237.0 L1509.5,233.8 L1511.7,230.6 L1514.0,227.5 L1516.3,224.3 L1518.5,221.2 L1520.9,218.1 L1523.2,215.0 L1525.5,211.9 L1527.9,208.8 L1530.3,205.8 L1532.7,202.7 L1535.1,199.7 L1537.5,196.7 L1539.9,193.7 L1542.4,190.7 L1544.9,187.8 L1547.4,184.9 L1549.9,181.9 L1552.4,179.0 L1555.0,176.2 L1557.6,173.3 L1560.1,170.4 L1562.8,167.6 L1565.4,164.8 L1568.0,162.0 L1570.7,159.3 L1573.4,156.5 L1576.1,153.8 L1578.8,151.1 L1581.5,148.4 L1584.3,145.8 L1587.1,143.1 L1589.8,140.5 L1592.7,137.9 L1595.5,135.3 L1598.4,132.8 L1601.2,130.3 L1604.1,127.8 L1607.0,125.3 L1610.0,122.9 L1612.9,120.4 L1615.9,118.0 L1618.9,115.7 L1621.9,113.3 L1625.0,111.0 L1628.0,108.7 L1631.1,106.4 L1634.2,104.2 L1637.3,102.0 L1640.5,99.8 L1643.6,97.6 L1646.8,95.5 L1650.0,93.4 L1653.3,91.3 L1656.5,89.3 L1659.8,87.3 L1663.1,85.3 L1666.4,83.3 L1669.7,81.4 L1673.1,79.5 L1676.5,77.7 L1679.9,75.8 L1683.3,74.0 L1686.8,72.3 L1690.3,70.5 L1693.8,68.8 L1697.3,67.2 L1700.8,65.5 L1704.4,63.9 L1708.0,62.4 L1711.6,60.8 L1715.2,59.3 L1718.9,57.8 L1722.5,56.4 L1726.2,55.0 L1729.9,53.6 L1733.6,52.3 L1737.4,51.0 L1741.1,49.7 L1744.9,48.5 L1748.7,47.3 L1752.5,46.1"/>
<path class="cv" stroke="#ff8000" d="M246.7,1509.6 L250.4,1509.5 L254.1,1509.4 L257.8,1509.3 L261.5,1509.3 L265.2,1509.2 L268.9,1509.1 L272.7,1509.0 L276.4,1508.9 L280.1,1508.8 L283.8,1508.7 L287.5,1508.6 L291.3,1508.5 L295.0,1508.4 L298.7,1508.3 L302.4,1508.2 L306.1,1508.1 L309.8,1508.0 L313.6,1507.8 L317.3,1507.7 L321.0,1507.6 L324.7,1507.4 L328.4,1507.3 L332.1,1507.1 L335.9,1507.0 L339.6,1506.8 L343.3,1506.7 L347.0,1506.5 L350.7,1506.3 L354.4,1506.1 L358.1,1505.9 L361.9,1505.8 L365.6,1505.5 L369.3,1505.3 L373.0,1505.1 L376.7,1504.9 L380.4,1504.7 L384.1,1504.4 L387.8,1504.2 L391.5,1503.9 L395.2,1503.7 L398.9,1503.4 L402.6,1503.1 L406.4,1502.9 L410.1,1502.6 L413.8,1502.3 L417.5,1501.9 L421.2,1501.6 L424.9,1501.3 L428.6,1501.0 L432.3,1500.6 L436.0,1500.3 L439.6,1499.9 L443.3,1499.5 L447.0,1499.1 L450.7,1498.7 L454.4,1498.3 L458.1,1497.9 L461.8,1497.5 L465.5,1497.0 L469.2,1496.6 L472.8,1496.1 L476.5,1495.6 L480.2,1495.1 L483.9,1494.6 L487.6,1494.1 L491.2,1493.6 L494.9,1493.1 L498.6,1492.5 L502.2,1492.0 L505.9,1491.4 L509.6,1490.8 L513.2,1490.2 L516.9,1489.6 L520.6,1489.0 L524.2,1488.3 L527.9,1487.7 L531.5,1487.0 L535.2,1486.3 L538.8,1485.6 L542.5,1484.9 L546.1,1484.2 L549.8,1483.4 L553.4,1482.7 L557.1,1481.9 L560.7,1481.1 L564.3,1480.3 L568.0,1479.5 L571.6,1478.7 L575.2,1477.8 L578.9,1476.9 L582.5,1476.1 L586.1,1475.2 L589.7,1474.2 L593.3,1473.3 L597.0,1472.4 L600.6,1471.4 L604.2,1470.4 L607.8,1469.4 L611.4,1468.4 L615.0,1467.3 L618.6,1466.3 L622.2,1465.2 L625.7,1464.1 L629.3,1463.0 L632.9,1461.9 L636.5,1460.7 L640.0,1459.6 L643.6,1458.4 L647.1,1457.2 L650.7,1456.0 L654.2,1454.7 L657.7,1453.5 L661.3,1452.2 L664.8,1450.9 L668.3,1449.6 L671.8,1448.3 L675.3,1446.9 L678.7,1445.5 L682.2,1444.2 L685.7,1442.7 L689.1,1441.3 L692.6,1439.9 L696.0,1438.4 L699.4,1436.9 L702.8,1435.4 L706.2,1433.8 L709.6,1432.3 L713.0,1430.7 L716.4,1429.1 L719.7,1427.5 L723.1,1425.9 L726.4,1424.2 L729.7,1422.5 L733.0,1420.8 L736.3,1419.1 L739.6,1417.4 L742.9,1415.6 L746.1,1413.8 L749.3,1412.0 L752.6,1410.2 L755.8,1408.3 L759.0,1406.4 L762.1,1404.5 L765.3,1402.6 L768.4,1400.7 L771.6,1398.7 L774.7,1396.7 L777.8,1394.7 L780.9,1392.7 L783.9,1390.6 L787.0,1388.5 L790.0,1386.4 L793.0,1384.3 L796.0,1382.2 L799.0,1380.0 L801.9,1377.8 L804.9,1375.6 L807.8,1373.3 L810.7,1371.1 L813.6,1368.8 L816.5,1366.5 L819.3,1364.1 L822.2,1361.8 L825.0,1359.4 L827.8,1357.0 L830.6,1354.6 L833.3,1352.2 L836.1,1349.7 L838.8,1347.2 L841.5,1344.7 L844.2,1342.2 L846.9,1339.7 L849.6,1337.2 L852.2,1334.6 L854.9,1332.0 L857.5,1329.4 L860.1,1326.8 L862.7,1324.1 L865.2,1321.5 L867.8,1318.8 L870.3,1316.1 L872.9,1313.4 L875.4,1310.7 L877.9,1307.9 L880.3,1305.2 L882.8,1302.4 L885.3,1299.6 L887.7,1296.8 L890.1,1294.0 L892.5,1291.1 L894.9,1288.3 L897.3,1285.4 L899.6,1282.6 L902.0,1279.7 L904.3,1276.8 L906.6,1273.9 L908.9,1270.9 L911.2,1268.0 L913.5,1265.0 L915.7,1262.1 L918.0,1259.1 L920.2,1256.1 L922.4,1253.1 L924.6,1250.1 L926.8,1247.0 L929.0,1244.0 L931.2,1241.0 L933.3,1237.9 L935.4,1234.8 L937.6,1231.8 L939.7,1228.7 L941.8,1225.6 L943.9,1222.5 L945.9,1219.4 L948.0,1216.2 L950.0,1213.1 L952.1,1210.0 L954.1,1206.8 L956.1,1203.7 L958.1,1200.5 L960.1,1197.3 L962.0,1194.2 L964.0,1191.0 L965.9,1187.8 L967.9,1184.6 L969.8,1181.4 L971.7,1178.2 L973.6,1175.0 L975.5,1171.8 L977.4,1168.5 L979.2,1165.3 L981.1,1162.1 L982.9,1158.8 L984.8,1155.6 L986.6,1152.3 L988.4,1149.1 L990.2,1145.8 L992.0,1142.6 L993.7,1139.3 L995.5,1136.0 L997.3,1132.7 L999.0,1129.4 L1000.8,1126.2 L1002.5,1122.9 L1004.2,1119.6 L1005.9,1116.3 L1007.6,1113.0 L1009.3,1109.6 L1011.0,1106.3 L1012.7,1103.0 L1014.3,1099.7 L1016.0,1096.3 L1017.6,1093.0 L1019.3,1089.7 L1020.9,1086.3 L1022.5,1083.0 L1024.1,1079.6 L1025.7,1076.3 L1027.3,1072.9 L1028.9,1069.6 L1030.5,1066.2 L1032.1,1062.8 L1033.6,1059.5 L1035.2,1056.1 L1036.8,1052.7 L1038.3,1049.3 L1039.8,1045.9 L1041.4,1042.6 L1042.9,1039.2 L1044.4,1035.8 L1045.9,1032.4 L1047.4,1029.0 L1048.9,1025.6 L1050.4,1022.2 L1051.9,1018.8 L1053.4,1015.4 L1054.9,1011.9 L1056.4,1008.5 L1057.8,1005.1 L1059.3,1001.7 L1060.7,998.3 L1062.2,994.9 L1063.6,991.4 L1065.1,988.0 L1066.5,984.6 L1068.0,981.1 L1069.4,977.7 L1070.8,974.3 L1072.2,970.8 L1073.6,967.4 L1075.1,964.0 L1076.5,960.5 L1077.9,957.1 L1079.3,953.6 L1080.7,950.2 L1082.1,946.7 L1083.5,943.3 L1084.8,939.8 L1086.2,936.4 L1087.6,932.9 L1089.0,929.5 L1090.4,926.0 L1091.7,922.6 L1093.1,919.1 L1094.5,915.7 L1095.8,912.2 L1097.2,908.7 L1098.6,905.3 L1099.9,901.8 L1101.3,898.4 L1102.6,894.9 L1104.0,891.4 L1105.3,888.0 L1106.7,884.5 L1108.0,881.0 L1109.4,877.6 L1110.7,874.1 L1112.0,870.6 L1113.4,867.2 L1114.7,863.7 L1116.0,860.2 L1117.4,856.8 L1118.7,853.3 L1120.0,849.8 L1121.4,846.3 L1122.7,842.9 L1124.0,839.4 L1125.3,835.9 L1126.7,832.4 L1128.0,829.0 L1129.3,825.5 L1130.6,822.0 L1131.9,818.5 L1133.3,815.1 L1134.6,811.6 L1135.9,808.1 L1137.2,804.6 L1138.5,801.2 L1139.8,797.7 L1141.1,794.2 L1142.5,790.7 L1143.8,787.3 L1145.1,783.8 L1146.4,780.3 L1147.7,776.8 L1149.0,773.3 L1150.3,769.9 L1151.7,766.4 L1153.0,762.9 L1154.3,759.4 L1155.6,756.0 L1156.9,752.5 L1158.2,749.0 L1159.5,745.5 L1160.9,742.0 L1162.2,738.6 L1163.5,735.1 L1164.8,731.6 L1166.1,728.1 L1167.4,724.7 L1168.8,721.2 L1170.1,717.7 L1171.4,714.2 L1172.7,710.8 L1174.1,707.3 L1175.4,703.8 L1176.7,700.4 L1178.1,696.9 L1179.4,693.4 L1180.7,689.9 L1182.0,686.5 L1183.4,683.0 L1184.7,679.5 L1186.1,676.1 L1187.4,672.6 L1188.7,669.1 L1190.1,665.7 L1191.4,662.2 L1192.8,658.7 L1194.1,655.3 L1195.5,651.8 L1196.9,648.4 L1198.2,644.9 L1199.6,641.4 L1200.9,638.0 L1202.3,634.5 L1203.7,631.1 L1205.1,627.6 L1206.4,624.2 L1207.8,620.7 L1209.2,617.3 L1210.6,613.8 L1212.0,610.4 L1213.4,606.9 L1214.7,603.5 L1216.1,600.0 L1217.5,596.6 L1218.9,593.1 L1220.4,589.7 L1221.8,586.2 L1223.2,582.8 L1224.6,579.4 L1226.0,575.9 L1227.4,572.5 L1228.9,569.1 L1230.3,565.6 L1231.7,562.2 L1233.2,558.8 L1234.6,555.3 L1236.1,551.9 L1237.5,548.5 L1239.0,545.1 L1240.5,541.7 L1241.9,538.2 L1243.4,534.8 L1244.9,531.4 L1246.4,528.0 L1247.8,524.6 L1249.3,521.2 L1250.8,517.8 L1252.3,514.4 L1253.8,511.0 L1255.4,507.6 L1256.9,504.2 L1258.4,500.8 L1259.9,497.4 L1261.5,494.0 L1263.0,490.6 L1264.6,487.2 L1266.1,483.8 L1267.7,480.5 L1269.3,477.1 L1270.8,473.7 L1272.4,470.4 L1274.0,467.0 L1275.6,463.6 L1277.2,460.3 L1278.8,456.9 L1280.5,453.6 L1282.1,450.3 L1283.7,446.9 L1285.4,443.6 L1287.0,440.3 L1288.7,436.9 L1290.4,433.6 L1292.1,430.3 L1293.7,427.0 L1295.4,423.7 L1297.2,420.4 L1298.9,417.1 L1300.6,413.8 L1302.3,410.5 L1304.1,407.2 L1305.8,403.9 L1307.6,400.7 L1309.4,397.4 L1311.2,394.2 L1313.0,390.9 L1314.8,387.7 L1316.6,384.4 L1318.4,381.2 L1320.3,378.0 L1322.1,374.7 L1324.0,371.5 L1325.9,368.3 L1327.7,365.1 L1329.6,361.9 L1331.6,358.7 L1333.5,355.6 L1335.4,352.4 L1337.4,349.2 L1339.3,346.1 L1341.3,342.9 L1343.3,339.8 L1345.3,336.6 L1347.3,333.5 L1349.3,330.4 L1351.3,327.2 L1353.4,324.1 L1355.5,321.0 L1357.5,317.9 L1359.6,314.9 L1361.7,311.8 L1363.8,308.7 L1366.0,305.7 L1368.1,302.6 L1370.3,299.6 L1372.5,296.6 L1374.6,293.6 L1376.8,290.6 L1379.1,287.6 L1381.3,284.6 L1383.5,281.6 L1385.8,278.7 L1388.1,275.7 L1390.4,272.8 L1392.7,269.9 L1395.0,267.0 L1397.4,264.1 L1399.7,261.2 L1402.1,258.3 L1404.5,255.5 L1406.9,252.6 L1409.3,249.8 L1411.7,247.0 L1414.2,244.2 L1416.7,241.4 L1419.1,238.7 L1421.6,235.9 L1424.2,233.2 L1426.7,230.5 L1429.2,227.8 L1431.8,225.1 L1434.4,222.5 L1437.0,219.8 L1439.6,217.2 L1442.3,214.6 L1444.9,212.0 L1447.6,209.4 L1450.3,206.9 L1453.0,204.4 L1455.7,201.8 L1458.5,199.4 L1461.2,196.9 L1464.0,194.4 L1466.8,192.0 L1469.6,189.5 L1472.4,187.1 L1475.2,184.7 L1478.1,182.4 L1480.9,180.0 L1483.8,177.7 L1486.7,175.3 L1489.6,173.0 L1492.5,170.7 L1495.5,168.4 L1498.4,166.2 L1501.4,163.9 L1504.3,161.7 L1507.3,159.5 L1510.3,157.3 L1513.3,155.1 L1516.3,152.9 L1519.4,150.7 L1522.4,148.6 L1525.5,146.5 L1528.5,144.3 L1531.6,142.2 L1534.7,140.1 L1537.8,138.1 L1540.9,136.0 L1544.0,134.0 L1547.1,131.9 L1550.2,129.9 L1553.4,127.9 L1556.5,125.9 L1559.7,123.9 L1562.8,121.9 L1566.0,120.0 L1569.2,118.0 L1572.4,116.1 L1575.6,114.2 L1578.8,112.2 L1582.0,110.3 L1585.2,108.5 L1588.4,106.6 L1591.7,104.7 L1594.9,102.8 L1598.1,101.0 L1601.4,99.1 L1604.6,97.3 L1607.9,95.5 L1611.1,93.7 L1614.4,91.8 L1617.6,90.0 L1620.9,88.2 L1624.2,86.4 L1627.4,84.6 L1630.7,82.8 L1634.0,81.0 L1637.2,79.3 L1640.5,77.5 L1643.8,75.7 L1647.0,73.9 L1650.3,72.1 L1653.5,70.3 L1656.8,68.5 L1660.0,66.8 L1663.3,65.0 L1666.5,63.2 L1669.8,61.4 L1673.0,59.6 L1676.2,57.8 L1679.5,56.0 L1682.7,54.1 L1685.9,52.3 L1689.1,50.5 L1692.3,48.7 L1695.5,46.8"/>
<path class="cv" stroke="#f07428" clip-path="url(#bands)" d="M246.7,1509.6 L250.4,1509.5 L254.1,1509.4 L257.8,1509.3 L261.5,1509.3 L265.2,1509.2 L268.9,1509.1 L272.7,1509.0 L276.4,1508.9 L280.1,1508.8 L283.8,1508.7 L287.5,1508.6 L291.3,1508.5 L295.0,1508.4 L298.7,1508.3 L302.4,1508.2 L306.1,1508.1 L309.8,1508.0 L313.6,1507.8 L317.3,1507.7 L321.0,1507.6 L324.7,1507.4 L328.4,1507.3 L332.1,1507.1 L335.9,1507.0 L339.6,1506.8 L343.3,1506.7 L347.0,1506.5 L350.7,1506.3 L354.4,1506.1 L358.1,1505.9 L361.9,1505.8 L365.6,1505.5 L369.3,1505.3 L373.0,1505.1 L376.7,1504.9 L380.4,1504.7 L384.1,1504.4 L387.8,1504.2 L391.5,1503.9 L395.2,1503.7 L398.9,1503.4 L402.6,1503.1 L406.4,1502.9 L410.1,1502.6 L413.8,1502.3 L417.5,1501.9 L421.2,1501.6 L424.9,1501.3 L428.6,1501.0 L432.3,1500.6 L436.0,1500.3 L439.6,1499.9 L443.3,1499.5 L447.0,1499.1 L450.7,1498.7 L454.4,1498.3 L458.1,1497.9 L461.8,1497.5 L465.5,1497.0 L469.2,1496.6 L472.8,1496.1 L476.5,1495.6 L480.2,1495.1 L483.9,1494.6 L487.6,1494.1 L491.2,1493.6 L494.9,1493.1 L498.6,1492.5 L502.2,1492.0 L505.9,1491.4 L509.6,1490.8 L513.2,1490.2 L516.9,1489.6 L520.6,1489.0 L524.2,1488.3 L527.9,1487.7 L531.5,1487.0 L535.2,1486.3 L538.8,1485.6 L542.5,1484.9 L546.1,1484.2 L549.8,1483.4 L553.4,1482.7 L557.1,1481.9 L560.7,1481.1 L564.3,1480.3 L568.0,1479.5 L571.6,1478.7 L575.2,1477.8 L578.9,1476.9 L582.5,1476.1 L586.1,1475.2 L589.7,1474.2 L593.3,1473.3 L597.0,1472.4 L600.6,1471.4 L604.2,1470.4 L607.8,1469.4 L611.4,1468.4 L615.0,1467.3 L618.6,1466.3 L622.2,1465.2 L625.7,1464.1 L629.3,1463.0 L632.9,1461.9 L636.5,1460.7 L640.0,1459.6 L643.6,1458.4 L647.1,1457.2 L650.7,1456.0 L654.2,1454.7 L657.7,1453.5 L661.3,1452.2 L664.8,1450.9 L668.3,1449.6 L671.8,1448.3 L675.3,1446.9 L678.7,1445.5 L682.2,1444.2 L685.7,1442.7 L689.1,1441.3 L692.6,1439.9 L696.0,1438.4 L699.4,1436.9 L702.8,1435.4 L706.2,1433.8 L709.6,1432.3 L713.0,1430.7 L716.4,1429.1 L719.7,1427.5 L723.1,1425.9 L726.4,1424.2 L729.7,1422.5 L733.0,1420.8 L736.3,1419.1 L739.6,1417.4 L742.9,1415.6 L746.1,1413.8 L749.3,1412.0 L752.6,1410.2 L755.8,1408.3 L759.0,1406.4 L762.1,1404.5 L765.3,1402.6 L768.4,1400.7 L771.6,1398.7 L774.7,1396.7 L777.8,1394.7 L780.9,1392.7 L783.9,1390.6 L787.0,1388.5 L790.0,1386.4 L793.0,1384.3 L796.0,1382.2 L799.0,1380.0 L801.9,1377.8 L804.9,1375.6 L807.8,1373.3 L810.7,1371.1 L813.6,1368.8 L816.5,1366.5 L819.3,1364.1 L822.2,1361.8 L825.0,1359.4 L827.8,1357.0 L830.6,1354.6 L833.3,1352.2 L836.1,1349.7 L838.8,1347.2 L841.5,1344.7 L844.2,1342.2 L846.9,1339.7 L849.6,1337.2 L852.2,1334.6 L854.9,1332.0 L857.5,1329.4 L860.1,1326.8 L862.7,1324.1 L865.2,1321.5 L867.8,1318.8 L870.3,1316.1 L872.9,1313.4 L875.4,1310.7 L877.9,1307.9 L880.3,1305.2 L882.8,1302.4 L885.3,1299.6 L887.7,1296.8 L890.1,1294.0 L892.5,1291.1 L894.9,1288.3 L897.3,1285.4 L899.6,1282.6 L902.0,1279.7 L904.3,1276.8 L906.6,1273.9 L908.9,1270.9 L911.2,1268.0 L913.5,1265.0 L915.7,1262.1 L918.0,1259.1 L920.2,1256.1 L922.4,1253.1 L924.6,1250.1 L926.8,1247.0 L929.0,1244.0 L931.2,1241.0 L933.3,1237.9 L935.4,1234.8 L937.6,1231.8 L939.7,1228.7 L941.8,1225.6 L943.9,1222.5 L945.9,1219.4 L948.0,1216.2 L950.0,1213.1 L952.1,1210.0 L954.1,1206.8 L956.1,1203.7 L958.1,1200.5 L960.1,1197.3 L962.0,1194.2 L964.0,1191.0 L965.9,1187.8 L967.9,1184.6 L969.8,1181.4 L971.7,1178.2 L973.6,1175.0 L975.5,1171.8 L977.4,1168.5 L979.2,1165.3 L981.1,1162.1 L982.9,1158.8 L984.8,1155.6 L986.6,1152.3 L988.4,1149.1 L990.2,1145.8 L992.0,1142.6 L993.7,1139.3 L995.5,1136.0 L997.3,1132.7 L999.0,1129.4 L1000.8,1126.2 L1002.5,1122.9 L1004.2,1119.6 L1005.9,1116.3 L1007.6,1113.0 L1009.3,1109.6 L1011.0,1106.3 L1012.7,1103.0 L1014.3,1099.7 L1016.0,1096.3 L1017.6,1093.0 L1019.3,1089.7 L1020.9,1086.3 L1022.5,1083.0 L1024.1,1079.6 L1025.7,1076.3 L1027.3,1072.9 L1028.9,1069.6 L1030.5,1066.2 L1032.1,1062.8 L1033.6,1059.5 L1035.2,1056.1 L1036.8,1052.7 L1038.3,1049.3 L1039.8,1045.9 L1041.4,1042.6 L1042.9,1039.2 L1044.4,1035.8 L1045.9,1032.4 L1047.4,1029.0 L1048.9,1025.6 L1050.4,1022.2 L1051.9,1018.8 L1053.4,1015.4 L1054.9,1011.9 L1056.4,1008.5 L1057.8,1005.1 L1059.3,1001.7 L1060.7,998.3 L1062.2,994.9 L1063.6,991.4 L1065.1,988.0 L1066.5,984.6 L1068.0,981.1 L1069.4,977.7 L1070.8,974.3 L1072.2,970.8 L1073.6,967.4 L1075.1,964.0 L1076.5,960.5 L1077.9,957.1 L1079.3,953.6 L1080.7,950.2 L1082.1,946.7 L1083.5,943.3 L1084.8,939.8 L1086.2,936.4 L1087.6,932.9 L1089.0,929.5 L1090.4,926.0 L1091.7,922.6 L1093.1,919.1 L1094.5,915.7 L1095.8,912.2 L1097.2,908.7 L1098.6,905.3 L1099.9,901.8 L1101.3,898.4 L1102.6,894.9 L1104.0,891.4 L1105.3,888.0 L1106.7,884.5 L1108.0,881.0 L1109.4,877.6 L1110.7,874.1 L1112.0,870.6 L1113.4,867.2 L1114.7,863.7 L1116.0,860.2 L1117.4,856.8 L1118.7,853.3 L1120.0,849.8 L1121.4,846.3 L1122.7,842.9 L1124.0,839.4 L1125.3,835.9 L1126.7,832.4 L1128.0,829.0 L1129.3,825.5 L1130.6,822.0 L1131.9,818.5 L1133.3,815.1 L1134.6,811.6 L1135.9,808.1 L1137.2,804.6 L1138.5,801.2 L1139.8,797.7 L1141.1,794.2 L1142.5,790.7 L1143.8,787.3 L1145.1,783.8 L1146.4,780.3 L1147.7,776.8 L1149.0,773.3 L1150.3,769.9 L1151.7,766.4 L1153.0,762.9 L1154.3,759.4 L1155.6,756.0 L1156.9,752.5 L1158.2,749.0 L1159.5,745.5 L1160.9,742.0 L1162.2,738.6 L1163.5,735.1 L1164.8,731.6 L1166.1,728.1 L1167.4,724.7 L1168.8,721.2 L1170.1,717.7 L1171.4,714.2 L1172.7,710.8 L1174.1,707.3 L1175.4,703.8 L1176.7,700.4 L1178.1,696.9 L1179.4,693.4 L1180.7,689.9 L1182.0,686.5 L1183.4,683.0 L1184.7,679.5 L1186.1,676.1 L1187.4,672.6 L1188.7,669.1 L1190.1,665.7 L1191.4,662.2 L1192.8,658.7 L1194.1,655.3 L1195.5,651.8 L1196.9,648.4 L1198.2,644.9 L1199.6,641.4 L1200.9,638.0 L1202.3,634.5 L1203.7,631.1 L1205.1,627.6 L1206.4,624.2 L1207.8,620.7 L1209.2,617.3 L1210.6,613.8 L1212.0,610.4 L1213.4,606.9 L1214.7,603.5 L1216.1,600.0 L1217.5,596.6 L1218.9,593.1 L1220.4,589.7 L1221.8,586.2 L1223.2,582.8 L1224.6,579.4 L1226.0,575.9 L1227.4,572.5 L1228.9,569.1 L1230.3,565.6 L1231.7,562.2 L1233.2,558.8 L1234.6,555.3 L1236.1,551.9 L1237.5,548.5 L1239.0,545.1 L1240.5,541.7 L1241.9,538.2 L1243.4,534.8 L1244.9,531.4 L1246.4,528.0 L1247.8,524.6 L1249.3,521.2 L1250.8,517.8 L1252.3,514.4 L1253.8,511.0 L1255.4,507.6 L1256.9,504.2 L1258.4,500.8 L1259.9,497.4 L1261.5,494.0 L1263.0,490.6 L1264.6,487.2 L1266.1,483.8 L1267.7,480.5 L1269.3,477.1 L1270.8,473.7 L1272.4,470.4 L1274.0,467.0 L1275.6,463.6 L1277.2,460.3 L1278.8,456.9 L1280.5,453.6 L1282.1,450.3 L1283.7,446.9 L1285.4,443.6 L1287.0,440.3 L1288.7,436.9 L1290.4,433.6 L1292.1,430.3 L1293.7,427.0 L1295.4,423.7 L1297.2,420.4 L1298.9,417.1 L1300.6,413.8 L1302.3,410.5 L1304.1,407.2 L1305.8,403.9 L1307.6,400.7 L1309.4,397.4 L1311.2,394.2 L1313.0,390.9 L1314.8,387.7 L1316.6,384.4 L1318.4,381.2 L1320.3,378.0 L1322.1,374.7 L1324.0,371.5 L1325.9,368.3 L1327.7,365.1 L1329.6,361.9 L1331.6,358.7 L1333.5,355.6 L1335.4,352.4 L1337.4,349.2 L1339.3,346.1 L1341.3,342.9 L1343.3,339.8 L1345.3,336.6 L1347.3,333.5 L1349.3,330.4 L1351.3,327.2 L1353.4,324.1 L1355.5,321.0 L1357.5,317.9 L1359.6,314.9 L1361.7,311.8 L1363.8,308.7 L1366.0,305.7 L1368.1,302.6 L1370.3,299.6 L1372.5,296.6 L1374.6,293.6 L1376.8,290.6 L1379.1,287.6 L1381.3,284.6 L1383.5,281.6 L1385.8,278.7 L1388.1,275.7 L1390.4,272.8 L1392.7,269.9 L1395.0,267.0 L1397.4,264.1 L1399.7,261.2 L1402.1,258.3 L1404.5,255.5 L1406.9,252.6 L1409.3,249.8 L1411.7,247.0 L1414.2,244.2 L1416.7,241.4 L1419.1,238.7 L1421.6,235.9 L1424.2,233.2 L1426.7,230.5 L1429.2,227.8 L1431.8,225.1 L1434.4,222.5 L1437.0,219.8 L1439.6,217.2 L1442.3,214.6 L1444.9,212.0 L1447.6,209.4 L1450.3,206.9 L1453.0,204.4 L1455.7,201.8 L1458.5,199.4 L1461.2,196.9 L1464.0,194.4 L1466.8,192.0 L1469.6,189.5 L1472.4,187.1 L1475.2,184.7 L1478.1,182.4 L1480.9,180.0 L1483.8,177.7 L1486.7,175.3 L1489.6,173.0 L1492.5,170.7 L1495.5,168.4 L1498.4,166.2 L1501.4,163.9 L1504.3,161.7 L1507.3,159.5 L1510.3,157.3 L1513.3,155.1 L1516.3,152.9 L1519.4,150.7 L1522.4,148.6 L1525.5,146.5 L1528.5,144.3 L1531.6,142.2 L1534.7,140.1 L1537.8,138.1 L1540.9,136.0 L1544.0,134.0 L1547.1,131.9 L1550.2,129.9 L1553.4,127.9 L1556.5,125.9 L1559.7,123.9 L1562.8,121.9 L1566.0,120.0 L1569.2,118.0 L1572.4,116.1 L1575.6,114.2 L1578.8,112.2 L1582.0,110.3 L1585.2,108.5 L1588.4,106.6 L1591.7,104.7 L1594.9,102.8 L1598.1,101.0 L1601.4,99.1 L1604.6,97.3 L1607.9,95.5 L1611.1,93.7 L1614.4,91.8 L1617.6,90.0 L1620.9,88.2 L1624.2,86.4 L1627.4,84.6 L1630.7,82.8 L1634.0,81.0 L1637.2,79.3 L1640.5,77.5 L1643.8,75.7 L1647.0,73.9 L1650.3,72.1 L1653.5,70.3 L1656.8,68.5 L1660.0,66.8 L1663.3,65.0 L1666.5,63.2 L1669.8,61.4 L1673.0,59.6 L1676.2,57.8 L1679.5,56.0 L1682.7,54.1 L1685.9,52.3 L1689.1,50.5 L1692.3,48.7 L1695.5,46.8"/>
</g>
<rect x="1123.5" y="599.2" width="135" height="106.4" fill="#fdfdfd"/>
<rect x="1187.0" y="752.4" width="135" height="106.4" fill="#fdfdfd"/>
<rect x="1262.5" y="880.4" width="135" height="106.4" fill="#fdfdfd"/>
<rect x="1369.0" y="1008.5" width="135" height="106.4" fill="#fdfdfd"/>
<rect x="1461.5" y="1133.3" width="135" height="106.4" fill="#fdfdfd"/>
<rect x="1613.2" y="1325.8" width="135" height="106.4" fill="#fdfdfd"/>
<text class="tk" font-size="62.8" text-anchor="end" transform="translate(214.80,1531.10) scale(1,1.03)">0.0</text>
<text class="tk" font-size="62.8" text-anchor="end" transform="translate(214.80,1237.86) scale(1,1.03)">0.2</text>
<text class="tk" font-size="62.8" text-anchor="end" transform="translate(214.80,944.62) scale(1,1.03)">0.4</text>
<text class="tk" font-size="62.8" text-anchor="end" transform="translate(214.80,651.38) scale(1,1.03)">0.6</text>
<text class="tk" font-size="62.8" text-anchor="end" transform="translate(214.80,358.14) scale(1,1.03)">0.8</text>
<text class="tk" font-size="62.8" text-anchor="end" transform="translate(214.80,64.90) scale(1,1.03)">1.0</text>
<text class="tk" font-size="62.8" text-anchor="middle" transform="translate(246.05,1592.00) scale(1,1.03)">0.1</text>
<text class="tk" font-size="62.8" text-anchor="middle" transform="translate(702.25,1592.00) scale(1,1.03)">1</text>
<text class="tk" font-size="62.8" text-anchor="middle" transform="translate(1158.45,1592.00) scale(1,1.03)">10</text>
<text class="tk" font-size="62.8" text-anchor="middle" transform="translate(1614.65,1592.00) scale(1,1.03)">100</text>
<text class="tk" font-size="62.8" text-anchor="middle" transform="translate(2070.85,1592.00) scale(1,1.03)">1000</text>
<text class="ti" font-size="76.5" text-anchor="middle" transform="translate(1240.60,1692.90) scale(1,1.02)">Time (min)</text>
<text class="ti" font-size="76.7" text-anchor="middle" transform="translate(74.50,728.60) rotate(-90) scale(1,1.015)">Degree of Cure</text>
<text class="lg" font-size="76.5" text-anchor="start" transform="translate(459.00,306.00)">Isothermal</text>
<text class="lg" font-size="76.1" text-anchor="start" transform="translate(460.50,411.30)">Temperature /</text>
<text class="lg" font-size="46" text-anchor="start" transform="translate(937.50,374.60)">o</text>
<text class="lg" font-size="76.5" text-anchor="start" transform="translate(963.50,411.30)">C</text>
<text class="lb" font-size="76" text-anchor="middle" transform="translate(1190.30,678.00) scale(1,1.035)">200</text>
<text class="lb" font-size="76" text-anchor="middle" transform="translate(1256.30,832.00) scale(1,1.035)">180</text>
<text class="lb" font-size="76" text-anchor="middle" transform="translate(1331.70,959.30) scale(1,1.035)">160</text>
<text class="lb" font-size="76" text-anchor="middle" transform="translate(1438.50,1087.60) scale(1,1.035)">140</text>
<text class="lb" font-size="76" text-anchor="middle" transform="translate(1530.30,1211.60) scale(1,1.035)">120</text>
<text class="lb" font-size="76" text-anchor="middle" transform="translate(1682.60,1404.60) scale(1,1.035)">100</text>
<path d="M0,55.5 H2152 M0,216.5 H2152 M0,377.5 H2152 M0,538.5 H2152 M0,699.5 H2152 M0,860.5 H2152 M0,1021.5 H2152 M0,1182.5 H2152 M0,1343.5 H2152 M0,1504.5 H2152 M0,1665.5 H2152 " stroke="#ffffff" stroke-opacity="0.3" stroke-width="1" fill="none"/>
</svg></body></html>
